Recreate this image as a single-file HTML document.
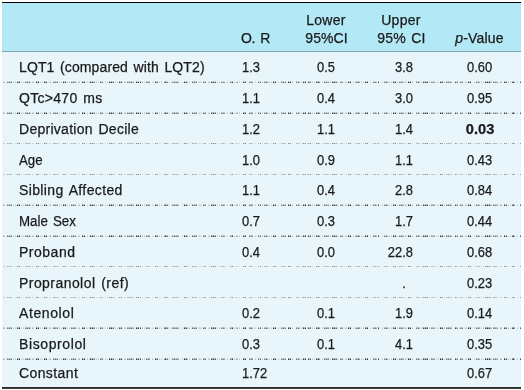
<!DOCTYPE html><html><head><meta charset="utf-8"><style>
html,body{margin:0;padding:0;background:#fff;width:524px;height:390px;overflow:hidden}
body{position:relative;will-change:transform;font-family:"Liberation Sans",sans-serif;color:#1a1a1a;-webkit-text-stroke:0.25px #1a1a1a}
.a{position:absolute}
.t{position:absolute;white-space:pre;font-size:14px;letter-spacing:0.3px;line-height:1;word-spacing:1.5px}
.c{text-align:center;width:80px}
.n{position:absolute;white-space:pre;line-height:1;transform-origin:0 0;width:0;height:1em}
.n span{position:absolute;top:0}
</style></head><body>

<div class="a" style="left:2px;top:2px;width:519px;height:1px;background:#000"></div>
<div class="a" style="left:2px;top:3px;width:519px;height:48px;background:#b3e9f6"></div>
<div class="a" style="left:2px;top:51px;width:519px;height:1px;background:#80a6b1"></div>
<div class="a" style="left:2px;top:52px;width:519px;height:335px;background:#e8f6fb"></div>
<div class="a" style="left:2px;top:387px;width:519px;height:1px;background:#2b2b2b"></div>
<div class="a" style="left:2px;top:388px;width:519px;height:1px;background:#3c3c3c"></div>
<svg class="a" style="left:0;top:81px;opacity:0.35" width="524" height="1" fill="#1e1e1e"><path fill-opacity="0.21" d="M13 0h1v1h-1zM15 0h1v1h-1zM21 0h1v1h-1zM23 0h1v1h-1zM30 0h1v1h-1zM40 0h1v1h-1zM42 0h1v1h-1zM59 0h1v1h-1zM61 0h1v1h-1zM67 0h1v1h-1zM69 0h1v1h-1zM87 0h1v1h-1zM89 0h1v1h-1zM96 0h1v1h-1zM98 0h1v1h-1zM105 0h1v1h-1zM107 0h1v1h-1zM115 0h1v1h-1zM117 0h1v1h-1zM125 0h1v1h-1zM142 0h1v1h-1zM144 0h1v1h-1zM152 0h1v1h-1zM159 0h1v1h-1zM161 0h1v1h-1zM169 0h1v1h-1zM182 0h1v1h-1zM187 0h1v1h-1zM189 0h1v1h-1zM200 0h1v1h-1zM208 0h1v1h-1zM209 0h1v1h-1zM217 0h1v1h-1zM219 0h1v1h-1zM227 0h1v1h-1zM234 0h1v1h-1zM239 0h1v1h-1zM255 0h1v1h-1zM262 0h1v1h-1zM269 0h1v1h-1zM271 0h1v1h-1zM278 0h1v1h-1zM292 0h1v1h-1zM301 0h1v1h-1zM312 0h1v1h-1zM314 0h1v1h-1zM322 0h1v1h-1zM330 0h1v1h-1zM337 0h1v1h-1zM345 0h1v1h-1zM346 0h1v1h-1zM353 0h1v1h-1zM355 0h1v1h-1zM361 0h1v1h-1zM363 0h1v1h-1zM370 0h1v1h-1zM382 0h1v1h-1zM389 0h1v1h-1zM391 0h1v1h-1zM397 0h1v1h-1zM405 0h1v1h-1zM406 0h1v1h-1zM412 0h1v1h-1zM421 0h1v1h-1zM429 0h1v1h-1zM436 0h1v1h-1zM438 0h1v1h-1zM444 0h1v1h-1zM465 0h1v1h-1zM466 0h1v1h-1zM474 0h1v1h-1zM481 0h1v1h-1zM483 0h1v1h-1zM491 0h1v1h-1zM508 0h1v1h-1zM510 0h1v1h-1zM517 0h1v1h-1z"/><path fill-opacity="0.26" d="M3 0h1v1h-1zM4 0h1v1h-1zM32 0h1v1h-1zM33 0h1v1h-1zM49 0h1v1h-1zM50 0h1v1h-1zM78 0h1v1h-1zM79 0h1v1h-1zM124 0h1v1h-1zM199 0h1v1h-1zM501 0h1v1h-1z"/><path fill-opacity="0.32" d="M8 0h1v1h-1zM10 0h1v1h-1zM18 0h1v1h-1zM26 0h1v1h-1zM28 0h1v1h-1zM37 0h1v1h-1zM45 0h1v1h-1zM54 0h1v1h-1zM56 0h1v1h-1zM64 0h1v1h-1zM72 0h1v1h-1zM74 0h1v1h-1zM83 0h1v1h-1zM91 0h1v1h-1zM93 0h1v1h-1zM101 0h1v1h-1zM110 0h1v1h-1zM112 0h1v1h-1zM120 0h1v1h-1zM128 0h1v1h-1zM130 0h1v1h-1zM132 0h1v1h-1zM137 0h1v1h-1zM147 0h1v1h-1zM156 0h1v1h-1zM166 0h1v1h-1zM173 0h1v1h-1zM175 0h1v1h-1zM177 0h1v1h-1zM185 0h1v1h-1zM193 0h1v1h-1zM195 0h1v1h-1zM204 0h1v1h-1zM212 0h1v1h-1zM214 0h1v1h-1zM222 0h1v1h-1zM231 0h1v1h-1zM236 0h1v1h-1zM237 0h1v1h-1zM244 0h1v1h-1zM250 0h1v1h-1zM265 0h1v1h-1zM274 0h1v1h-1zM282 0h1v1h-1zM284 0h1v1h-1zM289 0h1v1h-1zM297 0h1v1h-1zM299 0h1v1h-1zM304 0h1v1h-1zM309 0h1v1h-1zM317 0h1v1h-1zM325 0h1v1h-1zM327 0h1v1h-1zM333 0h1v1h-1zM335 0h1v1h-1zM341 0h1v1h-1zM349 0h1v1h-1zM366 0h1v1h-1zM374 0h1v1h-1zM376 0h1v1h-1zM385 0h1v1h-1zM394 0h1v1h-1zM400 0h1v1h-1zM402 0h1v1h-1zM409 0h1v1h-1zM417 0h1v1h-1zM419 0h1v1h-1zM424 0h1v1h-1zM426 0h1v1h-1zM432 0h1v1h-1zM434 0h1v1h-1zM441 0h1v1h-1zM447 0h1v1h-1zM449 0h1v1h-1zM451 0h1v1h-1zM456 0h1v1h-1zM461 0h1v1h-1zM469 0h1v1h-1zM477 0h1v1h-1zM479 0h1v1h-1zM486 0h1v1h-1zM488 0h1v1h-1zM490 0h1v1h-1zM494 0h1v1h-1zM496 0h1v1h-1zM500 0h1v1h-1zM505 0h1v1h-1zM514 0h1v1h-1z"/><path fill-opacity="0.37" d="M357 0h1v1h-1z"/><path fill-opacity="0.42" d="M133 0h1v1h-1zM149 0h1v1h-1zM164 0h1v1h-1zM178 0h1v1h-1zM224 0h1v1h-1zM252 0h1v1h-1zM267 0h1v1h-1zM319 0h1v1h-1zM359 0h1v1h-1zM387 0h1v1h-1zM403 0h1v1h-1zM497 0h1v1h-1z"/><path fill-opacity="0.53" d="M127 0h1v1h-1zM172 0h1v1h-1zM221 0h1v1h-1zM223 0h1v1h-1zM264 0h1v1h-1zM281 0h1v1h-1zM285 0h1v1h-1zM296 0h1v1h-1zM298 0h1v1h-1zM328 0h1v1h-1zM340 0h1v1h-1zM342 0h1v1h-1zM373 0h1v1h-1zM384 0h1v1h-1zM399 0h1v1h-1zM416 0h1v1h-1zM431 0h1v1h-1zM433 0h1v1h-1zM446 0h1v1h-1zM450 0h1v1h-1zM457 0h1v1h-1zM462 0h1v1h-1zM476 0h1v1h-1zM478 0h1v1h-1zM493 0h1v1h-1zM495 0h1v1h-1z"/><path fill-opacity="0.58" d="M7 0h1v1h-1zM9 0h1v1h-1zM11 0h1v1h-1zM25 0h1v1h-1zM27 0h1v1h-1zM29 0h1v1h-1zM53 0h1v1h-1zM55 0h1v1h-1zM57 0h1v1h-1zM71 0h1v1h-1zM73 0h1v1h-1zM75 0h1v1h-1zM94 0h1v1h-1zM102 0h1v1h-1zM129 0h1v1h-1zM131 0h1v1h-1zM146 0h1v1h-1zM148 0h1v1h-1zM174 0h1v1h-1zM176 0h1v1h-1zM249 0h1v1h-1zM251 0h1v1h-1zM266 0h1v1h-1zM283 0h1v1h-1zM324 0h1v1h-1zM326 0h1v1h-1zM356 0h1v1h-1zM358 0h1v1h-1zM375 0h1v1h-1zM386 0h1v1h-1zM401 0h1v1h-1zM418 0h1v1h-1zM448 0h1v1h-1z"/><path fill-opacity="0.63" d="M100 0h1v1h-1zM113 0h1v1h-1zM167 0h1v1h-1zM192 0h1v1h-1zM194 0h1v1h-1zM196 0h1v1h-1zM203 0h1v1h-1zM205 0h1v1h-1zM230 0h1v1h-1zM310 0h1v1h-1zM336 0h1v1h-1zM460 0h1v1h-1zM512 0h1v1h-1z"/><path fill-opacity="0.73" d="M157 0h1v1h-1zM215 0h1v1h-1zM258 0h1v1h-1zM260 0h1v1h-1zM506 0h1v1h-1zM520 0h1v1h-1z"/><path fill-opacity="0.79" d="M455 0h1v1h-1z"/><path fill-opacity="0.84" d="M90 0h1v1h-1zM92 0h1v1h-1zM119 0h1v1h-1zM121 0h1v1h-1zM140 0h1v1h-1zM186 0h1v1h-1zM211 0h1v1h-1zM308 0h1v1h-1zM316 0h1v1h-1zM318 0h1v1h-1zM332 0h1v1h-1zM378 0h1v1h-1zM423 0h1v1h-1zM427 0h1v1h-1zM489 0h1v1h-1z"/><path fill-opacity="0.89" d="M17 0h1v1h-1zM19 0h1v1h-1zM36 0h1v1h-1zM38 0h1v1h-1zM44 0h1v1h-1zM46 0h1v1h-1zM63 0h1v1h-1zM65 0h1v1h-1zM82 0h1v1h-1zM84 0h1v1h-1zM109 0h1v1h-1zM111 0h1v1h-1zM136 0h1v1h-1zM138 0h1v1h-1zM155 0h1v1h-1zM165 0h1v1h-1zM184 0h1v1h-1zM213 0h1v1h-1zM232 0h1v1h-1zM243 0h1v1h-1zM245 0h1v1h-1zM273 0h1v1h-1zM275 0h1v1h-1zM288 0h1v1h-1zM290 0h1v1h-1zM303 0h1v1h-1zM305 0h1v1h-1zM334 0h1v1h-1zM348 0h1v1h-1zM350 0h1v1h-1zM365 0h1v1h-1zM367 0h1v1h-1zM393 0h1v1h-1zM395 0h1v1h-1zM408 0h1v1h-1zM410 0h1v1h-1zM425 0h1v1h-1zM440 0h1v1h-1zM442 0h1v1h-1zM468 0h1v1h-1zM470 0h1v1h-1zM485 0h1v1h-1zM487 0h1v1h-1zM504 0h1v1h-1zM513 0h1v1h-1z"/></svg>
<svg class="a" style="left:0;top:82px;opacity:1" width="524" height="1" fill="#1e1e1e"><path fill-opacity="0.21" d="M13 0h1v1h-1zM15 0h1v1h-1zM21 0h1v1h-1zM23 0h1v1h-1zM30 0h1v1h-1zM40 0h1v1h-1zM42 0h1v1h-1zM59 0h1v1h-1zM61 0h1v1h-1zM67 0h1v1h-1zM69 0h1v1h-1zM87 0h1v1h-1zM89 0h1v1h-1zM96 0h1v1h-1zM98 0h1v1h-1zM105 0h1v1h-1zM107 0h1v1h-1zM115 0h1v1h-1zM117 0h1v1h-1zM125 0h1v1h-1zM142 0h1v1h-1zM144 0h1v1h-1zM152 0h1v1h-1zM159 0h1v1h-1zM161 0h1v1h-1zM169 0h1v1h-1zM182 0h1v1h-1zM187 0h1v1h-1zM189 0h1v1h-1zM200 0h1v1h-1zM208 0h1v1h-1zM209 0h1v1h-1zM217 0h1v1h-1zM219 0h1v1h-1zM227 0h1v1h-1zM234 0h1v1h-1zM239 0h1v1h-1zM255 0h1v1h-1zM262 0h1v1h-1zM269 0h1v1h-1zM271 0h1v1h-1zM278 0h1v1h-1zM292 0h1v1h-1zM301 0h1v1h-1zM312 0h1v1h-1zM314 0h1v1h-1zM322 0h1v1h-1zM330 0h1v1h-1zM337 0h1v1h-1zM345 0h1v1h-1zM346 0h1v1h-1zM353 0h1v1h-1zM355 0h1v1h-1zM361 0h1v1h-1zM363 0h1v1h-1zM370 0h1v1h-1zM382 0h1v1h-1zM389 0h1v1h-1zM391 0h1v1h-1zM397 0h1v1h-1zM405 0h1v1h-1zM406 0h1v1h-1zM412 0h1v1h-1zM421 0h1v1h-1zM429 0h1v1h-1zM436 0h1v1h-1zM438 0h1v1h-1zM444 0h1v1h-1zM465 0h1v1h-1zM466 0h1v1h-1zM474 0h1v1h-1zM481 0h1v1h-1zM483 0h1v1h-1zM491 0h1v1h-1zM508 0h1v1h-1zM510 0h1v1h-1zM517 0h1v1h-1z"/><path fill-opacity="0.26" d="M3 0h1v1h-1zM4 0h1v1h-1zM32 0h1v1h-1zM33 0h1v1h-1zM49 0h1v1h-1zM50 0h1v1h-1zM78 0h1v1h-1zM79 0h1v1h-1zM124 0h1v1h-1zM199 0h1v1h-1zM501 0h1v1h-1z"/><path fill-opacity="0.32" d="M8 0h1v1h-1zM10 0h1v1h-1zM18 0h1v1h-1zM26 0h1v1h-1zM28 0h1v1h-1zM37 0h1v1h-1zM45 0h1v1h-1zM54 0h1v1h-1zM56 0h1v1h-1zM64 0h1v1h-1zM72 0h1v1h-1zM74 0h1v1h-1zM83 0h1v1h-1zM91 0h1v1h-1zM93 0h1v1h-1zM101 0h1v1h-1zM110 0h1v1h-1zM112 0h1v1h-1zM120 0h1v1h-1zM128 0h1v1h-1zM130 0h1v1h-1zM132 0h1v1h-1zM137 0h1v1h-1zM147 0h1v1h-1zM156 0h1v1h-1zM166 0h1v1h-1zM173 0h1v1h-1zM175 0h1v1h-1zM177 0h1v1h-1zM185 0h1v1h-1zM193 0h1v1h-1zM195 0h1v1h-1zM204 0h1v1h-1zM212 0h1v1h-1zM214 0h1v1h-1zM222 0h1v1h-1zM231 0h1v1h-1zM236 0h1v1h-1zM237 0h1v1h-1zM244 0h1v1h-1zM250 0h1v1h-1zM265 0h1v1h-1zM274 0h1v1h-1zM282 0h1v1h-1zM284 0h1v1h-1zM289 0h1v1h-1zM297 0h1v1h-1zM299 0h1v1h-1zM304 0h1v1h-1zM309 0h1v1h-1zM317 0h1v1h-1zM325 0h1v1h-1zM327 0h1v1h-1zM333 0h1v1h-1zM335 0h1v1h-1zM341 0h1v1h-1zM349 0h1v1h-1zM366 0h1v1h-1zM374 0h1v1h-1zM376 0h1v1h-1zM385 0h1v1h-1zM394 0h1v1h-1zM400 0h1v1h-1zM402 0h1v1h-1zM409 0h1v1h-1zM417 0h1v1h-1zM419 0h1v1h-1zM424 0h1v1h-1zM426 0h1v1h-1zM432 0h1v1h-1zM434 0h1v1h-1zM441 0h1v1h-1zM447 0h1v1h-1zM449 0h1v1h-1zM451 0h1v1h-1zM456 0h1v1h-1zM461 0h1v1h-1zM469 0h1v1h-1zM477 0h1v1h-1zM479 0h1v1h-1zM486 0h1v1h-1zM488 0h1v1h-1zM490 0h1v1h-1zM494 0h1v1h-1zM496 0h1v1h-1zM500 0h1v1h-1zM505 0h1v1h-1zM514 0h1v1h-1z"/><path fill-opacity="0.37" d="M357 0h1v1h-1z"/><path fill-opacity="0.42" d="M133 0h1v1h-1zM149 0h1v1h-1zM164 0h1v1h-1zM178 0h1v1h-1zM224 0h1v1h-1zM252 0h1v1h-1zM267 0h1v1h-1zM319 0h1v1h-1zM359 0h1v1h-1zM387 0h1v1h-1zM403 0h1v1h-1zM497 0h1v1h-1z"/><path fill-opacity="0.53" d="M127 0h1v1h-1zM172 0h1v1h-1zM221 0h1v1h-1zM223 0h1v1h-1zM264 0h1v1h-1zM281 0h1v1h-1zM285 0h1v1h-1zM296 0h1v1h-1zM298 0h1v1h-1zM328 0h1v1h-1zM340 0h1v1h-1zM342 0h1v1h-1zM373 0h1v1h-1zM384 0h1v1h-1zM399 0h1v1h-1zM416 0h1v1h-1zM431 0h1v1h-1zM433 0h1v1h-1zM446 0h1v1h-1zM450 0h1v1h-1zM457 0h1v1h-1zM462 0h1v1h-1zM476 0h1v1h-1zM478 0h1v1h-1zM493 0h1v1h-1zM495 0h1v1h-1z"/><path fill-opacity="0.58" d="M7 0h1v1h-1zM9 0h1v1h-1zM11 0h1v1h-1zM25 0h1v1h-1zM27 0h1v1h-1zM29 0h1v1h-1zM53 0h1v1h-1zM55 0h1v1h-1zM57 0h1v1h-1zM71 0h1v1h-1zM73 0h1v1h-1zM75 0h1v1h-1zM94 0h1v1h-1zM102 0h1v1h-1zM129 0h1v1h-1zM131 0h1v1h-1zM146 0h1v1h-1zM148 0h1v1h-1zM174 0h1v1h-1zM176 0h1v1h-1zM249 0h1v1h-1zM251 0h1v1h-1zM266 0h1v1h-1zM283 0h1v1h-1zM324 0h1v1h-1zM326 0h1v1h-1zM356 0h1v1h-1zM358 0h1v1h-1zM375 0h1v1h-1zM386 0h1v1h-1zM401 0h1v1h-1zM418 0h1v1h-1zM448 0h1v1h-1z"/><path fill-opacity="0.63" d="M100 0h1v1h-1zM113 0h1v1h-1zM167 0h1v1h-1zM192 0h1v1h-1zM194 0h1v1h-1zM196 0h1v1h-1zM203 0h1v1h-1zM205 0h1v1h-1zM230 0h1v1h-1zM310 0h1v1h-1zM336 0h1v1h-1zM460 0h1v1h-1zM512 0h1v1h-1z"/><path fill-opacity="0.73" d="M157 0h1v1h-1zM215 0h1v1h-1zM258 0h1v1h-1zM260 0h1v1h-1zM506 0h1v1h-1zM520 0h1v1h-1z"/><path fill-opacity="0.79" d="M455 0h1v1h-1z"/><path fill-opacity="0.84" d="M90 0h1v1h-1zM92 0h1v1h-1zM119 0h1v1h-1zM121 0h1v1h-1zM140 0h1v1h-1zM186 0h1v1h-1zM211 0h1v1h-1zM308 0h1v1h-1zM316 0h1v1h-1zM318 0h1v1h-1zM332 0h1v1h-1zM378 0h1v1h-1zM423 0h1v1h-1zM427 0h1v1h-1zM489 0h1v1h-1z"/><path fill-opacity="0.89" d="M17 0h1v1h-1zM19 0h1v1h-1zM36 0h1v1h-1zM38 0h1v1h-1zM44 0h1v1h-1zM46 0h1v1h-1zM63 0h1v1h-1zM65 0h1v1h-1zM82 0h1v1h-1zM84 0h1v1h-1zM109 0h1v1h-1zM111 0h1v1h-1zM136 0h1v1h-1zM138 0h1v1h-1zM155 0h1v1h-1zM165 0h1v1h-1zM184 0h1v1h-1zM213 0h1v1h-1zM232 0h1v1h-1zM243 0h1v1h-1zM245 0h1v1h-1zM273 0h1v1h-1zM275 0h1v1h-1zM288 0h1v1h-1zM290 0h1v1h-1zM303 0h1v1h-1zM305 0h1v1h-1zM334 0h1v1h-1zM348 0h1v1h-1zM350 0h1v1h-1zM365 0h1v1h-1zM367 0h1v1h-1zM393 0h1v1h-1zM395 0h1v1h-1zM408 0h1v1h-1zM410 0h1v1h-1zM425 0h1v1h-1zM440 0h1v1h-1zM442 0h1v1h-1zM468 0h1v1h-1zM470 0h1v1h-1zM485 0h1v1h-1zM487 0h1v1h-1zM504 0h1v1h-1zM513 0h1v1h-1z"/></svg>
<svg class="a" style="left:0;top:112px;opacity:0.45" width="524" height="1" fill="#1e1e1e"><path fill-opacity="0.21" d="M13 0h1v1h-1zM15 0h1v1h-1zM21 0h1v1h-1zM23 0h1v1h-1zM30 0h1v1h-1zM40 0h1v1h-1zM42 0h1v1h-1zM59 0h1v1h-1zM61 0h1v1h-1zM67 0h1v1h-1zM69 0h1v1h-1zM87 0h1v1h-1zM89 0h1v1h-1zM96 0h1v1h-1zM98 0h1v1h-1zM105 0h1v1h-1zM107 0h1v1h-1zM115 0h1v1h-1zM117 0h1v1h-1zM125 0h1v1h-1zM142 0h1v1h-1zM144 0h1v1h-1zM152 0h1v1h-1zM159 0h1v1h-1zM161 0h1v1h-1zM169 0h1v1h-1zM182 0h1v1h-1zM187 0h1v1h-1zM189 0h1v1h-1zM200 0h1v1h-1zM208 0h1v1h-1zM209 0h1v1h-1zM217 0h1v1h-1zM219 0h1v1h-1zM227 0h1v1h-1zM234 0h1v1h-1zM239 0h1v1h-1zM255 0h1v1h-1zM262 0h1v1h-1zM269 0h1v1h-1zM271 0h1v1h-1zM278 0h1v1h-1zM292 0h1v1h-1zM301 0h1v1h-1zM312 0h1v1h-1zM314 0h1v1h-1zM322 0h1v1h-1zM330 0h1v1h-1zM337 0h1v1h-1zM345 0h1v1h-1zM346 0h1v1h-1zM353 0h1v1h-1zM355 0h1v1h-1zM361 0h1v1h-1zM363 0h1v1h-1zM370 0h1v1h-1zM382 0h1v1h-1zM389 0h1v1h-1zM391 0h1v1h-1zM397 0h1v1h-1zM405 0h1v1h-1zM406 0h1v1h-1zM412 0h1v1h-1zM421 0h1v1h-1zM429 0h1v1h-1zM436 0h1v1h-1zM438 0h1v1h-1zM444 0h1v1h-1zM465 0h1v1h-1zM466 0h1v1h-1zM474 0h1v1h-1zM481 0h1v1h-1zM483 0h1v1h-1zM491 0h1v1h-1zM508 0h1v1h-1zM510 0h1v1h-1zM517 0h1v1h-1z"/><path fill-opacity="0.26" d="M3 0h1v1h-1zM4 0h1v1h-1zM32 0h1v1h-1zM33 0h1v1h-1zM49 0h1v1h-1zM50 0h1v1h-1zM78 0h1v1h-1zM79 0h1v1h-1zM124 0h1v1h-1zM199 0h1v1h-1zM501 0h1v1h-1z"/><path fill-opacity="0.32" d="M8 0h1v1h-1zM10 0h1v1h-1zM18 0h1v1h-1zM26 0h1v1h-1zM28 0h1v1h-1zM37 0h1v1h-1zM45 0h1v1h-1zM54 0h1v1h-1zM56 0h1v1h-1zM64 0h1v1h-1zM72 0h1v1h-1zM74 0h1v1h-1zM83 0h1v1h-1zM91 0h1v1h-1zM93 0h1v1h-1zM101 0h1v1h-1zM110 0h1v1h-1zM112 0h1v1h-1zM120 0h1v1h-1zM128 0h1v1h-1zM130 0h1v1h-1zM132 0h1v1h-1zM137 0h1v1h-1zM147 0h1v1h-1zM156 0h1v1h-1zM166 0h1v1h-1zM173 0h1v1h-1zM175 0h1v1h-1zM177 0h1v1h-1zM185 0h1v1h-1zM193 0h1v1h-1zM195 0h1v1h-1zM204 0h1v1h-1zM212 0h1v1h-1zM214 0h1v1h-1zM222 0h1v1h-1zM231 0h1v1h-1zM236 0h1v1h-1zM237 0h1v1h-1zM244 0h1v1h-1zM250 0h1v1h-1zM265 0h1v1h-1zM274 0h1v1h-1zM282 0h1v1h-1zM284 0h1v1h-1zM289 0h1v1h-1zM297 0h1v1h-1zM299 0h1v1h-1zM304 0h1v1h-1zM309 0h1v1h-1zM317 0h1v1h-1zM325 0h1v1h-1zM327 0h1v1h-1zM333 0h1v1h-1zM335 0h1v1h-1zM341 0h1v1h-1zM349 0h1v1h-1zM366 0h1v1h-1zM374 0h1v1h-1zM376 0h1v1h-1zM385 0h1v1h-1zM394 0h1v1h-1zM400 0h1v1h-1zM402 0h1v1h-1zM409 0h1v1h-1zM417 0h1v1h-1zM419 0h1v1h-1zM424 0h1v1h-1zM426 0h1v1h-1zM432 0h1v1h-1zM434 0h1v1h-1zM441 0h1v1h-1zM447 0h1v1h-1zM449 0h1v1h-1zM451 0h1v1h-1zM456 0h1v1h-1zM461 0h1v1h-1zM469 0h1v1h-1zM477 0h1v1h-1zM479 0h1v1h-1zM486 0h1v1h-1zM488 0h1v1h-1zM490 0h1v1h-1zM494 0h1v1h-1zM496 0h1v1h-1zM500 0h1v1h-1zM505 0h1v1h-1zM514 0h1v1h-1z"/><path fill-opacity="0.37" d="M357 0h1v1h-1z"/><path fill-opacity="0.42" d="M133 0h1v1h-1zM149 0h1v1h-1zM164 0h1v1h-1zM178 0h1v1h-1zM224 0h1v1h-1zM252 0h1v1h-1zM267 0h1v1h-1zM319 0h1v1h-1zM359 0h1v1h-1zM387 0h1v1h-1zM403 0h1v1h-1zM497 0h1v1h-1z"/><path fill-opacity="0.53" d="M127 0h1v1h-1zM172 0h1v1h-1zM221 0h1v1h-1zM223 0h1v1h-1zM264 0h1v1h-1zM281 0h1v1h-1zM285 0h1v1h-1zM296 0h1v1h-1zM298 0h1v1h-1zM328 0h1v1h-1zM340 0h1v1h-1zM342 0h1v1h-1zM373 0h1v1h-1zM384 0h1v1h-1zM399 0h1v1h-1zM416 0h1v1h-1zM431 0h1v1h-1zM433 0h1v1h-1zM446 0h1v1h-1zM450 0h1v1h-1zM457 0h1v1h-1zM462 0h1v1h-1zM476 0h1v1h-1zM478 0h1v1h-1zM493 0h1v1h-1zM495 0h1v1h-1z"/><path fill-opacity="0.58" d="M7 0h1v1h-1zM9 0h1v1h-1zM11 0h1v1h-1zM25 0h1v1h-1zM27 0h1v1h-1zM29 0h1v1h-1zM53 0h1v1h-1zM55 0h1v1h-1zM57 0h1v1h-1zM71 0h1v1h-1zM73 0h1v1h-1zM75 0h1v1h-1zM94 0h1v1h-1zM102 0h1v1h-1zM129 0h1v1h-1zM131 0h1v1h-1zM146 0h1v1h-1zM148 0h1v1h-1zM174 0h1v1h-1zM176 0h1v1h-1zM249 0h1v1h-1zM251 0h1v1h-1zM266 0h1v1h-1zM283 0h1v1h-1zM324 0h1v1h-1zM326 0h1v1h-1zM356 0h1v1h-1zM358 0h1v1h-1zM375 0h1v1h-1zM386 0h1v1h-1zM401 0h1v1h-1zM418 0h1v1h-1zM448 0h1v1h-1z"/><path fill-opacity="0.63" d="M100 0h1v1h-1zM113 0h1v1h-1zM167 0h1v1h-1zM192 0h1v1h-1zM194 0h1v1h-1zM196 0h1v1h-1zM203 0h1v1h-1zM205 0h1v1h-1zM230 0h1v1h-1zM310 0h1v1h-1zM336 0h1v1h-1zM460 0h1v1h-1zM512 0h1v1h-1z"/><path fill-opacity="0.73" d="M157 0h1v1h-1zM215 0h1v1h-1zM258 0h1v1h-1zM260 0h1v1h-1zM506 0h1v1h-1zM520 0h1v1h-1z"/><path fill-opacity="0.79" d="M455 0h1v1h-1z"/><path fill-opacity="0.84" d="M90 0h1v1h-1zM92 0h1v1h-1zM119 0h1v1h-1zM121 0h1v1h-1zM140 0h1v1h-1zM186 0h1v1h-1zM211 0h1v1h-1zM308 0h1v1h-1zM316 0h1v1h-1zM318 0h1v1h-1zM332 0h1v1h-1zM378 0h1v1h-1zM423 0h1v1h-1zM427 0h1v1h-1zM489 0h1v1h-1z"/><path fill-opacity="0.89" d="M17 0h1v1h-1zM19 0h1v1h-1zM36 0h1v1h-1zM38 0h1v1h-1zM44 0h1v1h-1zM46 0h1v1h-1zM63 0h1v1h-1zM65 0h1v1h-1zM82 0h1v1h-1zM84 0h1v1h-1zM109 0h1v1h-1zM111 0h1v1h-1zM136 0h1v1h-1zM138 0h1v1h-1zM155 0h1v1h-1zM165 0h1v1h-1zM184 0h1v1h-1zM213 0h1v1h-1zM232 0h1v1h-1zM243 0h1v1h-1zM245 0h1v1h-1zM273 0h1v1h-1zM275 0h1v1h-1zM288 0h1v1h-1zM290 0h1v1h-1zM303 0h1v1h-1zM305 0h1v1h-1zM334 0h1v1h-1zM348 0h1v1h-1zM350 0h1v1h-1zM365 0h1v1h-1zM367 0h1v1h-1zM393 0h1v1h-1zM395 0h1v1h-1zM408 0h1v1h-1zM410 0h1v1h-1zM425 0h1v1h-1zM440 0h1v1h-1zM442 0h1v1h-1zM468 0h1v1h-1zM470 0h1v1h-1zM485 0h1v1h-1zM487 0h1v1h-1zM504 0h1v1h-1zM513 0h1v1h-1z"/></svg>
<svg class="a" style="left:0;top:113px;opacity:1" width="524" height="1" fill="#1e1e1e"><path fill-opacity="0.21" d="M13 0h1v1h-1zM15 0h1v1h-1zM21 0h1v1h-1zM23 0h1v1h-1zM30 0h1v1h-1zM40 0h1v1h-1zM42 0h1v1h-1zM59 0h1v1h-1zM61 0h1v1h-1zM67 0h1v1h-1zM69 0h1v1h-1zM87 0h1v1h-1zM89 0h1v1h-1zM96 0h1v1h-1zM98 0h1v1h-1zM105 0h1v1h-1zM107 0h1v1h-1zM115 0h1v1h-1zM117 0h1v1h-1zM125 0h1v1h-1zM142 0h1v1h-1zM144 0h1v1h-1zM152 0h1v1h-1zM159 0h1v1h-1zM161 0h1v1h-1zM169 0h1v1h-1zM182 0h1v1h-1zM187 0h1v1h-1zM189 0h1v1h-1zM200 0h1v1h-1zM208 0h1v1h-1zM209 0h1v1h-1zM217 0h1v1h-1zM219 0h1v1h-1zM227 0h1v1h-1zM234 0h1v1h-1zM239 0h1v1h-1zM255 0h1v1h-1zM262 0h1v1h-1zM269 0h1v1h-1zM271 0h1v1h-1zM278 0h1v1h-1zM292 0h1v1h-1zM301 0h1v1h-1zM312 0h1v1h-1zM314 0h1v1h-1zM322 0h1v1h-1zM330 0h1v1h-1zM337 0h1v1h-1zM345 0h1v1h-1zM346 0h1v1h-1zM353 0h1v1h-1zM355 0h1v1h-1zM361 0h1v1h-1zM363 0h1v1h-1zM370 0h1v1h-1zM382 0h1v1h-1zM389 0h1v1h-1zM391 0h1v1h-1zM397 0h1v1h-1zM405 0h1v1h-1zM406 0h1v1h-1zM412 0h1v1h-1zM421 0h1v1h-1zM429 0h1v1h-1zM436 0h1v1h-1zM438 0h1v1h-1zM444 0h1v1h-1zM465 0h1v1h-1zM466 0h1v1h-1zM474 0h1v1h-1zM481 0h1v1h-1zM483 0h1v1h-1zM491 0h1v1h-1zM508 0h1v1h-1zM510 0h1v1h-1zM517 0h1v1h-1z"/><path fill-opacity="0.26" d="M3 0h1v1h-1zM4 0h1v1h-1zM32 0h1v1h-1zM33 0h1v1h-1zM49 0h1v1h-1zM50 0h1v1h-1zM78 0h1v1h-1zM79 0h1v1h-1zM124 0h1v1h-1zM199 0h1v1h-1zM501 0h1v1h-1z"/><path fill-opacity="0.32" d="M8 0h1v1h-1zM10 0h1v1h-1zM18 0h1v1h-1zM26 0h1v1h-1zM28 0h1v1h-1zM37 0h1v1h-1zM45 0h1v1h-1zM54 0h1v1h-1zM56 0h1v1h-1zM64 0h1v1h-1zM72 0h1v1h-1zM74 0h1v1h-1zM83 0h1v1h-1zM91 0h1v1h-1zM93 0h1v1h-1zM101 0h1v1h-1zM110 0h1v1h-1zM112 0h1v1h-1zM120 0h1v1h-1zM128 0h1v1h-1zM130 0h1v1h-1zM132 0h1v1h-1zM137 0h1v1h-1zM147 0h1v1h-1zM156 0h1v1h-1zM166 0h1v1h-1zM173 0h1v1h-1zM175 0h1v1h-1zM177 0h1v1h-1zM185 0h1v1h-1zM193 0h1v1h-1zM195 0h1v1h-1zM204 0h1v1h-1zM212 0h1v1h-1zM214 0h1v1h-1zM222 0h1v1h-1zM231 0h1v1h-1zM236 0h1v1h-1zM237 0h1v1h-1zM244 0h1v1h-1zM250 0h1v1h-1zM265 0h1v1h-1zM274 0h1v1h-1zM282 0h1v1h-1zM284 0h1v1h-1zM289 0h1v1h-1zM297 0h1v1h-1zM299 0h1v1h-1zM304 0h1v1h-1zM309 0h1v1h-1zM317 0h1v1h-1zM325 0h1v1h-1zM327 0h1v1h-1zM333 0h1v1h-1zM335 0h1v1h-1zM341 0h1v1h-1zM349 0h1v1h-1zM366 0h1v1h-1zM374 0h1v1h-1zM376 0h1v1h-1zM385 0h1v1h-1zM394 0h1v1h-1zM400 0h1v1h-1zM402 0h1v1h-1zM409 0h1v1h-1zM417 0h1v1h-1zM419 0h1v1h-1zM424 0h1v1h-1zM426 0h1v1h-1zM432 0h1v1h-1zM434 0h1v1h-1zM441 0h1v1h-1zM447 0h1v1h-1zM449 0h1v1h-1zM451 0h1v1h-1zM456 0h1v1h-1zM461 0h1v1h-1zM469 0h1v1h-1zM477 0h1v1h-1zM479 0h1v1h-1zM486 0h1v1h-1zM488 0h1v1h-1zM490 0h1v1h-1zM494 0h1v1h-1zM496 0h1v1h-1zM500 0h1v1h-1zM505 0h1v1h-1zM514 0h1v1h-1z"/><path fill-opacity="0.37" d="M357 0h1v1h-1z"/><path fill-opacity="0.42" d="M133 0h1v1h-1zM149 0h1v1h-1zM164 0h1v1h-1zM178 0h1v1h-1zM224 0h1v1h-1zM252 0h1v1h-1zM267 0h1v1h-1zM319 0h1v1h-1zM359 0h1v1h-1zM387 0h1v1h-1zM403 0h1v1h-1zM497 0h1v1h-1z"/><path fill-opacity="0.53" d="M127 0h1v1h-1zM172 0h1v1h-1zM221 0h1v1h-1zM223 0h1v1h-1zM264 0h1v1h-1zM281 0h1v1h-1zM285 0h1v1h-1zM296 0h1v1h-1zM298 0h1v1h-1zM328 0h1v1h-1zM340 0h1v1h-1zM342 0h1v1h-1zM373 0h1v1h-1zM384 0h1v1h-1zM399 0h1v1h-1zM416 0h1v1h-1zM431 0h1v1h-1zM433 0h1v1h-1zM446 0h1v1h-1zM450 0h1v1h-1zM457 0h1v1h-1zM462 0h1v1h-1zM476 0h1v1h-1zM478 0h1v1h-1zM493 0h1v1h-1zM495 0h1v1h-1z"/><path fill-opacity="0.58" d="M7 0h1v1h-1zM9 0h1v1h-1zM11 0h1v1h-1zM25 0h1v1h-1zM27 0h1v1h-1zM29 0h1v1h-1zM53 0h1v1h-1zM55 0h1v1h-1zM57 0h1v1h-1zM71 0h1v1h-1zM73 0h1v1h-1zM75 0h1v1h-1zM94 0h1v1h-1zM102 0h1v1h-1zM129 0h1v1h-1zM131 0h1v1h-1zM146 0h1v1h-1zM148 0h1v1h-1zM174 0h1v1h-1zM176 0h1v1h-1zM249 0h1v1h-1zM251 0h1v1h-1zM266 0h1v1h-1zM283 0h1v1h-1zM324 0h1v1h-1zM326 0h1v1h-1zM356 0h1v1h-1zM358 0h1v1h-1zM375 0h1v1h-1zM386 0h1v1h-1zM401 0h1v1h-1zM418 0h1v1h-1zM448 0h1v1h-1z"/><path fill-opacity="0.63" d="M100 0h1v1h-1zM113 0h1v1h-1zM167 0h1v1h-1zM192 0h1v1h-1zM194 0h1v1h-1zM196 0h1v1h-1zM203 0h1v1h-1zM205 0h1v1h-1zM230 0h1v1h-1zM310 0h1v1h-1zM336 0h1v1h-1zM460 0h1v1h-1zM512 0h1v1h-1z"/><path fill-opacity="0.73" d="M157 0h1v1h-1zM215 0h1v1h-1zM258 0h1v1h-1zM260 0h1v1h-1zM506 0h1v1h-1zM520 0h1v1h-1z"/><path fill-opacity="0.79" d="M455 0h1v1h-1z"/><path fill-opacity="0.84" d="M90 0h1v1h-1zM92 0h1v1h-1zM119 0h1v1h-1zM121 0h1v1h-1zM140 0h1v1h-1zM186 0h1v1h-1zM211 0h1v1h-1zM308 0h1v1h-1zM316 0h1v1h-1zM318 0h1v1h-1zM332 0h1v1h-1zM378 0h1v1h-1zM423 0h1v1h-1zM427 0h1v1h-1zM489 0h1v1h-1z"/><path fill-opacity="0.89" d="M17 0h1v1h-1zM19 0h1v1h-1zM36 0h1v1h-1zM38 0h1v1h-1zM44 0h1v1h-1zM46 0h1v1h-1zM63 0h1v1h-1zM65 0h1v1h-1zM82 0h1v1h-1zM84 0h1v1h-1zM109 0h1v1h-1zM111 0h1v1h-1zM136 0h1v1h-1zM138 0h1v1h-1zM155 0h1v1h-1zM165 0h1v1h-1zM184 0h1v1h-1zM213 0h1v1h-1zM232 0h1v1h-1zM243 0h1v1h-1zM245 0h1v1h-1zM273 0h1v1h-1zM275 0h1v1h-1zM288 0h1v1h-1zM290 0h1v1h-1zM303 0h1v1h-1zM305 0h1v1h-1zM334 0h1v1h-1zM348 0h1v1h-1zM350 0h1v1h-1zM365 0h1v1h-1zM367 0h1v1h-1zM393 0h1v1h-1zM395 0h1v1h-1zM408 0h1v1h-1zM410 0h1v1h-1zM425 0h1v1h-1zM440 0h1v1h-1zM442 0h1v1h-1zM468 0h1v1h-1zM470 0h1v1h-1zM485 0h1v1h-1zM487 0h1v1h-1zM504 0h1v1h-1zM513 0h1v1h-1z"/></svg>
<svg class="a" style="left:0;top:143px;opacity:0.55" width="524" height="1" fill="#1e1e1e"><path fill-opacity="0.21" d="M13 0h1v1h-1zM15 0h1v1h-1zM21 0h1v1h-1zM23 0h1v1h-1zM30 0h1v1h-1zM40 0h1v1h-1zM42 0h1v1h-1zM59 0h1v1h-1zM61 0h1v1h-1zM67 0h1v1h-1zM69 0h1v1h-1zM87 0h1v1h-1zM89 0h1v1h-1zM96 0h1v1h-1zM98 0h1v1h-1zM105 0h1v1h-1zM107 0h1v1h-1zM115 0h1v1h-1zM117 0h1v1h-1zM125 0h1v1h-1zM142 0h1v1h-1zM144 0h1v1h-1zM152 0h1v1h-1zM159 0h1v1h-1zM161 0h1v1h-1zM169 0h1v1h-1zM182 0h1v1h-1zM187 0h1v1h-1zM189 0h1v1h-1zM200 0h1v1h-1zM208 0h1v1h-1zM209 0h1v1h-1zM217 0h1v1h-1zM219 0h1v1h-1zM227 0h1v1h-1zM234 0h1v1h-1zM239 0h1v1h-1zM255 0h1v1h-1zM262 0h1v1h-1zM269 0h1v1h-1zM271 0h1v1h-1zM278 0h1v1h-1zM292 0h1v1h-1zM301 0h1v1h-1zM312 0h1v1h-1zM314 0h1v1h-1zM322 0h1v1h-1zM330 0h1v1h-1zM337 0h1v1h-1zM345 0h1v1h-1zM346 0h1v1h-1zM353 0h1v1h-1zM355 0h1v1h-1zM361 0h1v1h-1zM363 0h1v1h-1zM370 0h1v1h-1zM382 0h1v1h-1zM389 0h1v1h-1zM391 0h1v1h-1zM397 0h1v1h-1zM405 0h1v1h-1zM406 0h1v1h-1zM412 0h1v1h-1zM421 0h1v1h-1zM429 0h1v1h-1zM436 0h1v1h-1zM438 0h1v1h-1zM444 0h1v1h-1zM465 0h1v1h-1zM466 0h1v1h-1zM474 0h1v1h-1zM481 0h1v1h-1zM483 0h1v1h-1zM491 0h1v1h-1zM508 0h1v1h-1zM510 0h1v1h-1zM517 0h1v1h-1z"/><path fill-opacity="0.26" d="M3 0h1v1h-1zM4 0h1v1h-1zM32 0h1v1h-1zM33 0h1v1h-1zM49 0h1v1h-1zM50 0h1v1h-1zM78 0h1v1h-1zM79 0h1v1h-1zM124 0h1v1h-1zM199 0h1v1h-1zM501 0h1v1h-1z"/><path fill-opacity="0.32" d="M8 0h1v1h-1zM10 0h1v1h-1zM18 0h1v1h-1zM26 0h1v1h-1zM28 0h1v1h-1zM37 0h1v1h-1zM45 0h1v1h-1zM54 0h1v1h-1zM56 0h1v1h-1zM64 0h1v1h-1zM72 0h1v1h-1zM74 0h1v1h-1zM83 0h1v1h-1zM91 0h1v1h-1zM93 0h1v1h-1zM101 0h1v1h-1zM110 0h1v1h-1zM112 0h1v1h-1zM120 0h1v1h-1zM128 0h1v1h-1zM130 0h1v1h-1zM132 0h1v1h-1zM137 0h1v1h-1zM147 0h1v1h-1zM156 0h1v1h-1zM166 0h1v1h-1zM173 0h1v1h-1zM175 0h1v1h-1zM177 0h1v1h-1zM185 0h1v1h-1zM193 0h1v1h-1zM195 0h1v1h-1zM204 0h1v1h-1zM212 0h1v1h-1zM214 0h1v1h-1zM222 0h1v1h-1zM231 0h1v1h-1zM236 0h1v1h-1zM237 0h1v1h-1zM244 0h1v1h-1zM250 0h1v1h-1zM265 0h1v1h-1zM274 0h1v1h-1zM282 0h1v1h-1zM284 0h1v1h-1zM289 0h1v1h-1zM297 0h1v1h-1zM299 0h1v1h-1zM304 0h1v1h-1zM309 0h1v1h-1zM317 0h1v1h-1zM325 0h1v1h-1zM327 0h1v1h-1zM333 0h1v1h-1zM335 0h1v1h-1zM341 0h1v1h-1zM349 0h1v1h-1zM366 0h1v1h-1zM374 0h1v1h-1zM376 0h1v1h-1zM385 0h1v1h-1zM394 0h1v1h-1zM400 0h1v1h-1zM402 0h1v1h-1zM409 0h1v1h-1zM417 0h1v1h-1zM419 0h1v1h-1zM424 0h1v1h-1zM426 0h1v1h-1zM432 0h1v1h-1zM434 0h1v1h-1zM441 0h1v1h-1zM447 0h1v1h-1zM449 0h1v1h-1zM451 0h1v1h-1zM456 0h1v1h-1zM461 0h1v1h-1zM469 0h1v1h-1zM477 0h1v1h-1zM479 0h1v1h-1zM486 0h1v1h-1zM488 0h1v1h-1zM490 0h1v1h-1zM494 0h1v1h-1zM496 0h1v1h-1zM500 0h1v1h-1zM505 0h1v1h-1zM514 0h1v1h-1z"/><path fill-opacity="0.37" d="M357 0h1v1h-1z"/><path fill-opacity="0.42" d="M133 0h1v1h-1zM149 0h1v1h-1zM164 0h1v1h-1zM178 0h1v1h-1zM224 0h1v1h-1zM252 0h1v1h-1zM267 0h1v1h-1zM319 0h1v1h-1zM359 0h1v1h-1zM387 0h1v1h-1zM403 0h1v1h-1zM497 0h1v1h-1z"/><path fill-opacity="0.53" d="M127 0h1v1h-1zM172 0h1v1h-1zM221 0h1v1h-1zM223 0h1v1h-1zM264 0h1v1h-1zM281 0h1v1h-1zM285 0h1v1h-1zM296 0h1v1h-1zM298 0h1v1h-1zM328 0h1v1h-1zM340 0h1v1h-1zM342 0h1v1h-1zM373 0h1v1h-1zM384 0h1v1h-1zM399 0h1v1h-1zM416 0h1v1h-1zM431 0h1v1h-1zM433 0h1v1h-1zM446 0h1v1h-1zM450 0h1v1h-1zM457 0h1v1h-1zM462 0h1v1h-1zM476 0h1v1h-1zM478 0h1v1h-1zM493 0h1v1h-1zM495 0h1v1h-1z"/><path fill-opacity="0.58" d="M7 0h1v1h-1zM9 0h1v1h-1zM11 0h1v1h-1zM25 0h1v1h-1zM27 0h1v1h-1zM29 0h1v1h-1zM53 0h1v1h-1zM55 0h1v1h-1zM57 0h1v1h-1zM71 0h1v1h-1zM73 0h1v1h-1zM75 0h1v1h-1zM94 0h1v1h-1zM102 0h1v1h-1zM129 0h1v1h-1zM131 0h1v1h-1zM146 0h1v1h-1zM148 0h1v1h-1zM174 0h1v1h-1zM176 0h1v1h-1zM249 0h1v1h-1zM251 0h1v1h-1zM266 0h1v1h-1zM283 0h1v1h-1zM324 0h1v1h-1zM326 0h1v1h-1zM356 0h1v1h-1zM358 0h1v1h-1zM375 0h1v1h-1zM386 0h1v1h-1zM401 0h1v1h-1zM418 0h1v1h-1zM448 0h1v1h-1z"/><path fill-opacity="0.63" d="M100 0h1v1h-1zM113 0h1v1h-1zM167 0h1v1h-1zM192 0h1v1h-1zM194 0h1v1h-1zM196 0h1v1h-1zM203 0h1v1h-1zM205 0h1v1h-1zM230 0h1v1h-1zM310 0h1v1h-1zM336 0h1v1h-1zM460 0h1v1h-1zM512 0h1v1h-1z"/><path fill-opacity="0.73" d="M157 0h1v1h-1zM215 0h1v1h-1zM258 0h1v1h-1zM260 0h1v1h-1zM506 0h1v1h-1zM520 0h1v1h-1z"/><path fill-opacity="0.79" d="M455 0h1v1h-1z"/><path fill-opacity="0.84" d="M90 0h1v1h-1zM92 0h1v1h-1zM119 0h1v1h-1zM121 0h1v1h-1zM140 0h1v1h-1zM186 0h1v1h-1zM211 0h1v1h-1zM308 0h1v1h-1zM316 0h1v1h-1zM318 0h1v1h-1zM332 0h1v1h-1zM378 0h1v1h-1zM423 0h1v1h-1zM427 0h1v1h-1zM489 0h1v1h-1z"/><path fill-opacity="0.89" d="M17 0h1v1h-1zM19 0h1v1h-1zM36 0h1v1h-1zM38 0h1v1h-1zM44 0h1v1h-1zM46 0h1v1h-1zM63 0h1v1h-1zM65 0h1v1h-1zM82 0h1v1h-1zM84 0h1v1h-1zM109 0h1v1h-1zM111 0h1v1h-1zM136 0h1v1h-1zM138 0h1v1h-1zM155 0h1v1h-1zM165 0h1v1h-1zM184 0h1v1h-1zM213 0h1v1h-1zM232 0h1v1h-1zM243 0h1v1h-1zM245 0h1v1h-1zM273 0h1v1h-1zM275 0h1v1h-1zM288 0h1v1h-1zM290 0h1v1h-1zM303 0h1v1h-1zM305 0h1v1h-1zM334 0h1v1h-1zM348 0h1v1h-1zM350 0h1v1h-1zM365 0h1v1h-1zM367 0h1v1h-1zM393 0h1v1h-1zM395 0h1v1h-1zM408 0h1v1h-1zM410 0h1v1h-1zM425 0h1v1h-1zM440 0h1v1h-1zM442 0h1v1h-1zM468 0h1v1h-1zM470 0h1v1h-1zM485 0h1v1h-1zM487 0h1v1h-1zM504 0h1v1h-1zM513 0h1v1h-1z"/></svg>
<svg class="a" style="left:0;top:174px;opacity:0.55" width="524" height="1" fill="#1e1e1e"><path fill-opacity="0.21" d="M13 0h1v1h-1zM15 0h1v1h-1zM21 0h1v1h-1zM23 0h1v1h-1zM30 0h1v1h-1zM40 0h1v1h-1zM42 0h1v1h-1zM59 0h1v1h-1zM61 0h1v1h-1zM67 0h1v1h-1zM69 0h1v1h-1zM87 0h1v1h-1zM89 0h1v1h-1zM96 0h1v1h-1zM98 0h1v1h-1zM105 0h1v1h-1zM107 0h1v1h-1zM115 0h1v1h-1zM117 0h1v1h-1zM125 0h1v1h-1zM142 0h1v1h-1zM144 0h1v1h-1zM152 0h1v1h-1zM159 0h1v1h-1zM161 0h1v1h-1zM169 0h1v1h-1zM182 0h1v1h-1zM187 0h1v1h-1zM189 0h1v1h-1zM200 0h1v1h-1zM208 0h1v1h-1zM209 0h1v1h-1zM217 0h1v1h-1zM219 0h1v1h-1zM227 0h1v1h-1zM234 0h1v1h-1zM239 0h1v1h-1zM255 0h1v1h-1zM262 0h1v1h-1zM269 0h1v1h-1zM271 0h1v1h-1zM278 0h1v1h-1zM292 0h1v1h-1zM301 0h1v1h-1zM312 0h1v1h-1zM314 0h1v1h-1zM322 0h1v1h-1zM330 0h1v1h-1zM337 0h1v1h-1zM345 0h1v1h-1zM346 0h1v1h-1zM353 0h1v1h-1zM355 0h1v1h-1zM361 0h1v1h-1zM363 0h1v1h-1zM370 0h1v1h-1zM382 0h1v1h-1zM389 0h1v1h-1zM391 0h1v1h-1zM397 0h1v1h-1zM405 0h1v1h-1zM406 0h1v1h-1zM412 0h1v1h-1zM421 0h1v1h-1zM429 0h1v1h-1zM436 0h1v1h-1zM438 0h1v1h-1zM444 0h1v1h-1zM465 0h1v1h-1zM466 0h1v1h-1zM474 0h1v1h-1zM481 0h1v1h-1zM483 0h1v1h-1zM491 0h1v1h-1zM508 0h1v1h-1zM510 0h1v1h-1zM517 0h1v1h-1z"/><path fill-opacity="0.26" d="M3 0h1v1h-1zM4 0h1v1h-1zM32 0h1v1h-1zM33 0h1v1h-1zM49 0h1v1h-1zM50 0h1v1h-1zM78 0h1v1h-1zM79 0h1v1h-1zM124 0h1v1h-1zM199 0h1v1h-1zM501 0h1v1h-1z"/><path fill-opacity="0.32" d="M8 0h1v1h-1zM10 0h1v1h-1zM18 0h1v1h-1zM26 0h1v1h-1zM28 0h1v1h-1zM37 0h1v1h-1zM45 0h1v1h-1zM54 0h1v1h-1zM56 0h1v1h-1zM64 0h1v1h-1zM72 0h1v1h-1zM74 0h1v1h-1zM83 0h1v1h-1zM91 0h1v1h-1zM93 0h1v1h-1zM101 0h1v1h-1zM110 0h1v1h-1zM112 0h1v1h-1zM120 0h1v1h-1zM128 0h1v1h-1zM130 0h1v1h-1zM132 0h1v1h-1zM137 0h1v1h-1zM147 0h1v1h-1zM156 0h1v1h-1zM166 0h1v1h-1zM173 0h1v1h-1zM175 0h1v1h-1zM177 0h1v1h-1zM185 0h1v1h-1zM193 0h1v1h-1zM195 0h1v1h-1zM204 0h1v1h-1zM212 0h1v1h-1zM214 0h1v1h-1zM222 0h1v1h-1zM231 0h1v1h-1zM236 0h1v1h-1zM237 0h1v1h-1zM244 0h1v1h-1zM250 0h1v1h-1zM265 0h1v1h-1zM274 0h1v1h-1zM282 0h1v1h-1zM284 0h1v1h-1zM289 0h1v1h-1zM297 0h1v1h-1zM299 0h1v1h-1zM304 0h1v1h-1zM309 0h1v1h-1zM317 0h1v1h-1zM325 0h1v1h-1zM327 0h1v1h-1zM333 0h1v1h-1zM335 0h1v1h-1zM341 0h1v1h-1zM349 0h1v1h-1zM366 0h1v1h-1zM374 0h1v1h-1zM376 0h1v1h-1zM385 0h1v1h-1zM394 0h1v1h-1zM400 0h1v1h-1zM402 0h1v1h-1zM409 0h1v1h-1zM417 0h1v1h-1zM419 0h1v1h-1zM424 0h1v1h-1zM426 0h1v1h-1zM432 0h1v1h-1zM434 0h1v1h-1zM441 0h1v1h-1zM447 0h1v1h-1zM449 0h1v1h-1zM451 0h1v1h-1zM456 0h1v1h-1zM461 0h1v1h-1zM469 0h1v1h-1zM477 0h1v1h-1zM479 0h1v1h-1zM486 0h1v1h-1zM488 0h1v1h-1zM490 0h1v1h-1zM494 0h1v1h-1zM496 0h1v1h-1zM500 0h1v1h-1zM505 0h1v1h-1zM514 0h1v1h-1z"/><path fill-opacity="0.37" d="M357 0h1v1h-1z"/><path fill-opacity="0.42" d="M133 0h1v1h-1zM149 0h1v1h-1zM164 0h1v1h-1zM178 0h1v1h-1zM224 0h1v1h-1zM252 0h1v1h-1zM267 0h1v1h-1zM319 0h1v1h-1zM359 0h1v1h-1zM387 0h1v1h-1zM403 0h1v1h-1zM497 0h1v1h-1z"/><path fill-opacity="0.53" d="M127 0h1v1h-1zM172 0h1v1h-1zM221 0h1v1h-1zM223 0h1v1h-1zM264 0h1v1h-1zM281 0h1v1h-1zM285 0h1v1h-1zM296 0h1v1h-1zM298 0h1v1h-1zM328 0h1v1h-1zM340 0h1v1h-1zM342 0h1v1h-1zM373 0h1v1h-1zM384 0h1v1h-1zM399 0h1v1h-1zM416 0h1v1h-1zM431 0h1v1h-1zM433 0h1v1h-1zM446 0h1v1h-1zM450 0h1v1h-1zM457 0h1v1h-1zM462 0h1v1h-1zM476 0h1v1h-1zM478 0h1v1h-1zM493 0h1v1h-1zM495 0h1v1h-1z"/><path fill-opacity="0.58" d="M7 0h1v1h-1zM9 0h1v1h-1zM11 0h1v1h-1zM25 0h1v1h-1zM27 0h1v1h-1zM29 0h1v1h-1zM53 0h1v1h-1zM55 0h1v1h-1zM57 0h1v1h-1zM71 0h1v1h-1zM73 0h1v1h-1zM75 0h1v1h-1zM94 0h1v1h-1zM102 0h1v1h-1zM129 0h1v1h-1zM131 0h1v1h-1zM146 0h1v1h-1zM148 0h1v1h-1zM174 0h1v1h-1zM176 0h1v1h-1zM249 0h1v1h-1zM251 0h1v1h-1zM266 0h1v1h-1zM283 0h1v1h-1zM324 0h1v1h-1zM326 0h1v1h-1zM356 0h1v1h-1zM358 0h1v1h-1zM375 0h1v1h-1zM386 0h1v1h-1zM401 0h1v1h-1zM418 0h1v1h-1zM448 0h1v1h-1z"/><path fill-opacity="0.63" d="M100 0h1v1h-1zM113 0h1v1h-1zM167 0h1v1h-1zM192 0h1v1h-1zM194 0h1v1h-1zM196 0h1v1h-1zM203 0h1v1h-1zM205 0h1v1h-1zM230 0h1v1h-1zM310 0h1v1h-1zM336 0h1v1h-1zM460 0h1v1h-1zM512 0h1v1h-1z"/><path fill-opacity="0.73" d="M157 0h1v1h-1zM215 0h1v1h-1zM258 0h1v1h-1zM260 0h1v1h-1zM506 0h1v1h-1zM520 0h1v1h-1z"/><path fill-opacity="0.79" d="M455 0h1v1h-1z"/><path fill-opacity="0.84" d="M90 0h1v1h-1zM92 0h1v1h-1zM119 0h1v1h-1zM121 0h1v1h-1zM140 0h1v1h-1zM186 0h1v1h-1zM211 0h1v1h-1zM308 0h1v1h-1zM316 0h1v1h-1zM318 0h1v1h-1zM332 0h1v1h-1zM378 0h1v1h-1zM423 0h1v1h-1zM427 0h1v1h-1zM489 0h1v1h-1z"/><path fill-opacity="0.89" d="M17 0h1v1h-1zM19 0h1v1h-1zM36 0h1v1h-1zM38 0h1v1h-1zM44 0h1v1h-1zM46 0h1v1h-1zM63 0h1v1h-1zM65 0h1v1h-1zM82 0h1v1h-1zM84 0h1v1h-1zM109 0h1v1h-1zM111 0h1v1h-1zM136 0h1v1h-1zM138 0h1v1h-1zM155 0h1v1h-1zM165 0h1v1h-1zM184 0h1v1h-1zM213 0h1v1h-1zM232 0h1v1h-1zM243 0h1v1h-1zM245 0h1v1h-1zM273 0h1v1h-1zM275 0h1v1h-1zM288 0h1v1h-1zM290 0h1v1h-1zM303 0h1v1h-1zM305 0h1v1h-1zM334 0h1v1h-1zM348 0h1v1h-1zM350 0h1v1h-1zM365 0h1v1h-1zM367 0h1v1h-1zM393 0h1v1h-1zM395 0h1v1h-1zM408 0h1v1h-1zM410 0h1v1h-1zM425 0h1v1h-1zM440 0h1v1h-1zM442 0h1v1h-1zM468 0h1v1h-1zM470 0h1v1h-1zM485 0h1v1h-1zM487 0h1v1h-1zM504 0h1v1h-1zM513 0h1v1h-1z"/></svg>
<svg class="a" style="left:0;top:204px;opacity:0.45" width="524" height="1" fill="#1e1e1e"><path fill-opacity="0.21" d="M13 0h1v1h-1zM15 0h1v1h-1zM21 0h1v1h-1zM23 0h1v1h-1zM30 0h1v1h-1zM40 0h1v1h-1zM42 0h1v1h-1zM59 0h1v1h-1zM61 0h1v1h-1zM67 0h1v1h-1zM69 0h1v1h-1zM87 0h1v1h-1zM89 0h1v1h-1zM96 0h1v1h-1zM98 0h1v1h-1zM105 0h1v1h-1zM107 0h1v1h-1zM115 0h1v1h-1zM117 0h1v1h-1zM125 0h1v1h-1zM142 0h1v1h-1zM144 0h1v1h-1zM152 0h1v1h-1zM159 0h1v1h-1zM161 0h1v1h-1zM169 0h1v1h-1zM182 0h1v1h-1zM187 0h1v1h-1zM189 0h1v1h-1zM200 0h1v1h-1zM208 0h1v1h-1zM209 0h1v1h-1zM217 0h1v1h-1zM219 0h1v1h-1zM227 0h1v1h-1zM234 0h1v1h-1zM239 0h1v1h-1zM255 0h1v1h-1zM262 0h1v1h-1zM269 0h1v1h-1zM271 0h1v1h-1zM278 0h1v1h-1zM292 0h1v1h-1zM301 0h1v1h-1zM312 0h1v1h-1zM314 0h1v1h-1zM322 0h1v1h-1zM330 0h1v1h-1zM337 0h1v1h-1zM345 0h1v1h-1zM346 0h1v1h-1zM353 0h1v1h-1zM355 0h1v1h-1zM361 0h1v1h-1zM363 0h1v1h-1zM370 0h1v1h-1zM382 0h1v1h-1zM389 0h1v1h-1zM391 0h1v1h-1zM397 0h1v1h-1zM405 0h1v1h-1zM406 0h1v1h-1zM412 0h1v1h-1zM421 0h1v1h-1zM429 0h1v1h-1zM436 0h1v1h-1zM438 0h1v1h-1zM444 0h1v1h-1zM465 0h1v1h-1zM466 0h1v1h-1zM474 0h1v1h-1zM481 0h1v1h-1zM483 0h1v1h-1zM491 0h1v1h-1zM508 0h1v1h-1zM510 0h1v1h-1zM517 0h1v1h-1z"/><path fill-opacity="0.26" d="M3 0h1v1h-1zM4 0h1v1h-1zM32 0h1v1h-1zM33 0h1v1h-1zM49 0h1v1h-1zM50 0h1v1h-1zM78 0h1v1h-1zM79 0h1v1h-1zM124 0h1v1h-1zM199 0h1v1h-1zM501 0h1v1h-1z"/><path fill-opacity="0.32" d="M8 0h1v1h-1zM10 0h1v1h-1zM18 0h1v1h-1zM26 0h1v1h-1zM28 0h1v1h-1zM37 0h1v1h-1zM45 0h1v1h-1zM54 0h1v1h-1zM56 0h1v1h-1zM64 0h1v1h-1zM72 0h1v1h-1zM74 0h1v1h-1zM83 0h1v1h-1zM91 0h1v1h-1zM93 0h1v1h-1zM101 0h1v1h-1zM110 0h1v1h-1zM112 0h1v1h-1zM120 0h1v1h-1zM128 0h1v1h-1zM130 0h1v1h-1zM132 0h1v1h-1zM137 0h1v1h-1zM147 0h1v1h-1zM156 0h1v1h-1zM166 0h1v1h-1zM173 0h1v1h-1zM175 0h1v1h-1zM177 0h1v1h-1zM185 0h1v1h-1zM193 0h1v1h-1zM195 0h1v1h-1zM204 0h1v1h-1zM212 0h1v1h-1zM214 0h1v1h-1zM222 0h1v1h-1zM231 0h1v1h-1zM236 0h1v1h-1zM237 0h1v1h-1zM244 0h1v1h-1zM250 0h1v1h-1zM265 0h1v1h-1zM274 0h1v1h-1zM282 0h1v1h-1zM284 0h1v1h-1zM289 0h1v1h-1zM297 0h1v1h-1zM299 0h1v1h-1zM304 0h1v1h-1zM309 0h1v1h-1zM317 0h1v1h-1zM325 0h1v1h-1zM327 0h1v1h-1zM333 0h1v1h-1zM335 0h1v1h-1zM341 0h1v1h-1zM349 0h1v1h-1zM366 0h1v1h-1zM374 0h1v1h-1zM376 0h1v1h-1zM385 0h1v1h-1zM394 0h1v1h-1zM400 0h1v1h-1zM402 0h1v1h-1zM409 0h1v1h-1zM417 0h1v1h-1zM419 0h1v1h-1zM424 0h1v1h-1zM426 0h1v1h-1zM432 0h1v1h-1zM434 0h1v1h-1zM441 0h1v1h-1zM447 0h1v1h-1zM449 0h1v1h-1zM451 0h1v1h-1zM456 0h1v1h-1zM461 0h1v1h-1zM469 0h1v1h-1zM477 0h1v1h-1zM479 0h1v1h-1zM486 0h1v1h-1zM488 0h1v1h-1zM490 0h1v1h-1zM494 0h1v1h-1zM496 0h1v1h-1zM500 0h1v1h-1zM505 0h1v1h-1zM514 0h1v1h-1z"/><path fill-opacity="0.37" d="M357 0h1v1h-1z"/><path fill-opacity="0.42" d="M133 0h1v1h-1zM149 0h1v1h-1zM164 0h1v1h-1zM178 0h1v1h-1zM224 0h1v1h-1zM252 0h1v1h-1zM267 0h1v1h-1zM319 0h1v1h-1zM359 0h1v1h-1zM387 0h1v1h-1zM403 0h1v1h-1zM497 0h1v1h-1z"/><path fill-opacity="0.53" d="M127 0h1v1h-1zM172 0h1v1h-1zM221 0h1v1h-1zM223 0h1v1h-1zM264 0h1v1h-1zM281 0h1v1h-1zM285 0h1v1h-1zM296 0h1v1h-1zM298 0h1v1h-1zM328 0h1v1h-1zM340 0h1v1h-1zM342 0h1v1h-1zM373 0h1v1h-1zM384 0h1v1h-1zM399 0h1v1h-1zM416 0h1v1h-1zM431 0h1v1h-1zM433 0h1v1h-1zM446 0h1v1h-1zM450 0h1v1h-1zM457 0h1v1h-1zM462 0h1v1h-1zM476 0h1v1h-1zM478 0h1v1h-1zM493 0h1v1h-1zM495 0h1v1h-1z"/><path fill-opacity="0.58" d="M7 0h1v1h-1zM9 0h1v1h-1zM11 0h1v1h-1zM25 0h1v1h-1zM27 0h1v1h-1zM29 0h1v1h-1zM53 0h1v1h-1zM55 0h1v1h-1zM57 0h1v1h-1zM71 0h1v1h-1zM73 0h1v1h-1zM75 0h1v1h-1zM94 0h1v1h-1zM102 0h1v1h-1zM129 0h1v1h-1zM131 0h1v1h-1zM146 0h1v1h-1zM148 0h1v1h-1zM174 0h1v1h-1zM176 0h1v1h-1zM249 0h1v1h-1zM251 0h1v1h-1zM266 0h1v1h-1zM283 0h1v1h-1zM324 0h1v1h-1zM326 0h1v1h-1zM356 0h1v1h-1zM358 0h1v1h-1zM375 0h1v1h-1zM386 0h1v1h-1zM401 0h1v1h-1zM418 0h1v1h-1zM448 0h1v1h-1z"/><path fill-opacity="0.63" d="M100 0h1v1h-1zM113 0h1v1h-1zM167 0h1v1h-1zM192 0h1v1h-1zM194 0h1v1h-1zM196 0h1v1h-1zM203 0h1v1h-1zM205 0h1v1h-1zM230 0h1v1h-1zM310 0h1v1h-1zM336 0h1v1h-1zM460 0h1v1h-1zM512 0h1v1h-1z"/><path fill-opacity="0.73" d="M157 0h1v1h-1zM215 0h1v1h-1zM258 0h1v1h-1zM260 0h1v1h-1zM506 0h1v1h-1zM520 0h1v1h-1z"/><path fill-opacity="0.79" d="M455 0h1v1h-1z"/><path fill-opacity="0.84" d="M90 0h1v1h-1zM92 0h1v1h-1zM119 0h1v1h-1zM121 0h1v1h-1zM140 0h1v1h-1zM186 0h1v1h-1zM211 0h1v1h-1zM308 0h1v1h-1zM316 0h1v1h-1zM318 0h1v1h-1zM332 0h1v1h-1zM378 0h1v1h-1zM423 0h1v1h-1zM427 0h1v1h-1zM489 0h1v1h-1z"/><path fill-opacity="0.89" d="M17 0h1v1h-1zM19 0h1v1h-1zM36 0h1v1h-1zM38 0h1v1h-1zM44 0h1v1h-1zM46 0h1v1h-1zM63 0h1v1h-1zM65 0h1v1h-1zM82 0h1v1h-1zM84 0h1v1h-1zM109 0h1v1h-1zM111 0h1v1h-1zM136 0h1v1h-1zM138 0h1v1h-1zM155 0h1v1h-1zM165 0h1v1h-1zM184 0h1v1h-1zM213 0h1v1h-1zM232 0h1v1h-1zM243 0h1v1h-1zM245 0h1v1h-1zM273 0h1v1h-1zM275 0h1v1h-1zM288 0h1v1h-1zM290 0h1v1h-1zM303 0h1v1h-1zM305 0h1v1h-1zM334 0h1v1h-1zM348 0h1v1h-1zM350 0h1v1h-1zM365 0h1v1h-1zM367 0h1v1h-1zM393 0h1v1h-1zM395 0h1v1h-1zM408 0h1v1h-1zM410 0h1v1h-1zM425 0h1v1h-1zM440 0h1v1h-1zM442 0h1v1h-1zM468 0h1v1h-1zM470 0h1v1h-1zM485 0h1v1h-1zM487 0h1v1h-1zM504 0h1v1h-1zM513 0h1v1h-1z"/></svg>
<svg class="a" style="left:0;top:205px;opacity:1" width="524" height="1" fill="#1e1e1e"><path fill-opacity="0.21" d="M13 0h1v1h-1zM15 0h1v1h-1zM21 0h1v1h-1zM23 0h1v1h-1zM30 0h1v1h-1zM40 0h1v1h-1zM42 0h1v1h-1zM59 0h1v1h-1zM61 0h1v1h-1zM67 0h1v1h-1zM69 0h1v1h-1zM87 0h1v1h-1zM89 0h1v1h-1zM96 0h1v1h-1zM98 0h1v1h-1zM105 0h1v1h-1zM107 0h1v1h-1zM115 0h1v1h-1zM117 0h1v1h-1zM125 0h1v1h-1zM142 0h1v1h-1zM144 0h1v1h-1zM152 0h1v1h-1zM159 0h1v1h-1zM161 0h1v1h-1zM169 0h1v1h-1zM182 0h1v1h-1zM187 0h1v1h-1zM189 0h1v1h-1zM200 0h1v1h-1zM208 0h1v1h-1zM209 0h1v1h-1zM217 0h1v1h-1zM219 0h1v1h-1zM227 0h1v1h-1zM234 0h1v1h-1zM239 0h1v1h-1zM255 0h1v1h-1zM262 0h1v1h-1zM269 0h1v1h-1zM271 0h1v1h-1zM278 0h1v1h-1zM292 0h1v1h-1zM301 0h1v1h-1zM312 0h1v1h-1zM314 0h1v1h-1zM322 0h1v1h-1zM330 0h1v1h-1zM337 0h1v1h-1zM345 0h1v1h-1zM346 0h1v1h-1zM353 0h1v1h-1zM355 0h1v1h-1zM361 0h1v1h-1zM363 0h1v1h-1zM370 0h1v1h-1zM382 0h1v1h-1zM389 0h1v1h-1zM391 0h1v1h-1zM397 0h1v1h-1zM405 0h1v1h-1zM406 0h1v1h-1zM412 0h1v1h-1zM421 0h1v1h-1zM429 0h1v1h-1zM436 0h1v1h-1zM438 0h1v1h-1zM444 0h1v1h-1zM465 0h1v1h-1zM466 0h1v1h-1zM474 0h1v1h-1zM481 0h1v1h-1zM483 0h1v1h-1zM491 0h1v1h-1zM508 0h1v1h-1zM510 0h1v1h-1zM517 0h1v1h-1z"/><path fill-opacity="0.26" d="M3 0h1v1h-1zM4 0h1v1h-1zM32 0h1v1h-1zM33 0h1v1h-1zM49 0h1v1h-1zM50 0h1v1h-1zM78 0h1v1h-1zM79 0h1v1h-1zM124 0h1v1h-1zM199 0h1v1h-1zM501 0h1v1h-1z"/><path fill-opacity="0.32" d="M8 0h1v1h-1zM10 0h1v1h-1zM18 0h1v1h-1zM26 0h1v1h-1zM28 0h1v1h-1zM37 0h1v1h-1zM45 0h1v1h-1zM54 0h1v1h-1zM56 0h1v1h-1zM64 0h1v1h-1zM72 0h1v1h-1zM74 0h1v1h-1zM83 0h1v1h-1zM91 0h1v1h-1zM93 0h1v1h-1zM101 0h1v1h-1zM110 0h1v1h-1zM112 0h1v1h-1zM120 0h1v1h-1zM128 0h1v1h-1zM130 0h1v1h-1zM132 0h1v1h-1zM137 0h1v1h-1zM147 0h1v1h-1zM156 0h1v1h-1zM166 0h1v1h-1zM173 0h1v1h-1zM175 0h1v1h-1zM177 0h1v1h-1zM185 0h1v1h-1zM193 0h1v1h-1zM195 0h1v1h-1zM204 0h1v1h-1zM212 0h1v1h-1zM214 0h1v1h-1zM222 0h1v1h-1zM231 0h1v1h-1zM236 0h1v1h-1zM237 0h1v1h-1zM244 0h1v1h-1zM250 0h1v1h-1zM265 0h1v1h-1zM274 0h1v1h-1zM282 0h1v1h-1zM284 0h1v1h-1zM289 0h1v1h-1zM297 0h1v1h-1zM299 0h1v1h-1zM304 0h1v1h-1zM309 0h1v1h-1zM317 0h1v1h-1zM325 0h1v1h-1zM327 0h1v1h-1zM333 0h1v1h-1zM335 0h1v1h-1zM341 0h1v1h-1zM349 0h1v1h-1zM366 0h1v1h-1zM374 0h1v1h-1zM376 0h1v1h-1zM385 0h1v1h-1zM394 0h1v1h-1zM400 0h1v1h-1zM402 0h1v1h-1zM409 0h1v1h-1zM417 0h1v1h-1zM419 0h1v1h-1zM424 0h1v1h-1zM426 0h1v1h-1zM432 0h1v1h-1zM434 0h1v1h-1zM441 0h1v1h-1zM447 0h1v1h-1zM449 0h1v1h-1zM451 0h1v1h-1zM456 0h1v1h-1zM461 0h1v1h-1zM469 0h1v1h-1zM477 0h1v1h-1zM479 0h1v1h-1zM486 0h1v1h-1zM488 0h1v1h-1zM490 0h1v1h-1zM494 0h1v1h-1zM496 0h1v1h-1zM500 0h1v1h-1zM505 0h1v1h-1zM514 0h1v1h-1z"/><path fill-opacity="0.37" d="M357 0h1v1h-1z"/><path fill-opacity="0.42" d="M133 0h1v1h-1zM149 0h1v1h-1zM164 0h1v1h-1zM178 0h1v1h-1zM224 0h1v1h-1zM252 0h1v1h-1zM267 0h1v1h-1zM319 0h1v1h-1zM359 0h1v1h-1zM387 0h1v1h-1zM403 0h1v1h-1zM497 0h1v1h-1z"/><path fill-opacity="0.53" d="M127 0h1v1h-1zM172 0h1v1h-1zM221 0h1v1h-1zM223 0h1v1h-1zM264 0h1v1h-1zM281 0h1v1h-1zM285 0h1v1h-1zM296 0h1v1h-1zM298 0h1v1h-1zM328 0h1v1h-1zM340 0h1v1h-1zM342 0h1v1h-1zM373 0h1v1h-1zM384 0h1v1h-1zM399 0h1v1h-1zM416 0h1v1h-1zM431 0h1v1h-1zM433 0h1v1h-1zM446 0h1v1h-1zM450 0h1v1h-1zM457 0h1v1h-1zM462 0h1v1h-1zM476 0h1v1h-1zM478 0h1v1h-1zM493 0h1v1h-1zM495 0h1v1h-1z"/><path fill-opacity="0.58" d="M7 0h1v1h-1zM9 0h1v1h-1zM11 0h1v1h-1zM25 0h1v1h-1zM27 0h1v1h-1zM29 0h1v1h-1zM53 0h1v1h-1zM55 0h1v1h-1zM57 0h1v1h-1zM71 0h1v1h-1zM73 0h1v1h-1zM75 0h1v1h-1zM94 0h1v1h-1zM102 0h1v1h-1zM129 0h1v1h-1zM131 0h1v1h-1zM146 0h1v1h-1zM148 0h1v1h-1zM174 0h1v1h-1zM176 0h1v1h-1zM249 0h1v1h-1zM251 0h1v1h-1zM266 0h1v1h-1zM283 0h1v1h-1zM324 0h1v1h-1zM326 0h1v1h-1zM356 0h1v1h-1zM358 0h1v1h-1zM375 0h1v1h-1zM386 0h1v1h-1zM401 0h1v1h-1zM418 0h1v1h-1zM448 0h1v1h-1z"/><path fill-opacity="0.63" d="M100 0h1v1h-1zM113 0h1v1h-1zM167 0h1v1h-1zM192 0h1v1h-1zM194 0h1v1h-1zM196 0h1v1h-1zM203 0h1v1h-1zM205 0h1v1h-1zM230 0h1v1h-1zM310 0h1v1h-1zM336 0h1v1h-1zM460 0h1v1h-1zM512 0h1v1h-1z"/><path fill-opacity="0.73" d="M157 0h1v1h-1zM215 0h1v1h-1zM258 0h1v1h-1zM260 0h1v1h-1zM506 0h1v1h-1zM520 0h1v1h-1z"/><path fill-opacity="0.79" d="M455 0h1v1h-1z"/><path fill-opacity="0.84" d="M90 0h1v1h-1zM92 0h1v1h-1zM119 0h1v1h-1zM121 0h1v1h-1zM140 0h1v1h-1zM186 0h1v1h-1zM211 0h1v1h-1zM308 0h1v1h-1zM316 0h1v1h-1zM318 0h1v1h-1zM332 0h1v1h-1zM378 0h1v1h-1zM423 0h1v1h-1zM427 0h1v1h-1zM489 0h1v1h-1z"/><path fill-opacity="0.89" d="M17 0h1v1h-1zM19 0h1v1h-1zM36 0h1v1h-1zM38 0h1v1h-1zM44 0h1v1h-1zM46 0h1v1h-1zM63 0h1v1h-1zM65 0h1v1h-1zM82 0h1v1h-1zM84 0h1v1h-1zM109 0h1v1h-1zM111 0h1v1h-1zM136 0h1v1h-1zM138 0h1v1h-1zM155 0h1v1h-1zM165 0h1v1h-1zM184 0h1v1h-1zM213 0h1v1h-1zM232 0h1v1h-1zM243 0h1v1h-1zM245 0h1v1h-1zM273 0h1v1h-1zM275 0h1v1h-1zM288 0h1v1h-1zM290 0h1v1h-1zM303 0h1v1h-1zM305 0h1v1h-1zM334 0h1v1h-1zM348 0h1v1h-1zM350 0h1v1h-1zM365 0h1v1h-1zM367 0h1v1h-1zM393 0h1v1h-1zM395 0h1v1h-1zM408 0h1v1h-1zM410 0h1v1h-1zM425 0h1v1h-1zM440 0h1v1h-1zM442 0h1v1h-1zM468 0h1v1h-1zM470 0h1v1h-1zM485 0h1v1h-1zM487 0h1v1h-1zM504 0h1v1h-1zM513 0h1v1h-1z"/></svg>
<svg class="a" style="left:0;top:235px;opacity:0.5" width="524" height="1" fill="#1e1e1e"><path fill-opacity="0.21" d="M13 0h1v1h-1zM15 0h1v1h-1zM21 0h1v1h-1zM23 0h1v1h-1zM30 0h1v1h-1zM40 0h1v1h-1zM42 0h1v1h-1zM59 0h1v1h-1zM61 0h1v1h-1zM67 0h1v1h-1zM69 0h1v1h-1zM87 0h1v1h-1zM89 0h1v1h-1zM96 0h1v1h-1zM98 0h1v1h-1zM105 0h1v1h-1zM107 0h1v1h-1zM115 0h1v1h-1zM117 0h1v1h-1zM125 0h1v1h-1zM142 0h1v1h-1zM144 0h1v1h-1zM152 0h1v1h-1zM159 0h1v1h-1zM161 0h1v1h-1zM169 0h1v1h-1zM182 0h1v1h-1zM187 0h1v1h-1zM189 0h1v1h-1zM200 0h1v1h-1zM208 0h1v1h-1zM209 0h1v1h-1zM217 0h1v1h-1zM219 0h1v1h-1zM227 0h1v1h-1zM234 0h1v1h-1zM239 0h1v1h-1zM255 0h1v1h-1zM262 0h1v1h-1zM269 0h1v1h-1zM271 0h1v1h-1zM278 0h1v1h-1zM292 0h1v1h-1zM301 0h1v1h-1zM312 0h1v1h-1zM314 0h1v1h-1zM322 0h1v1h-1zM330 0h1v1h-1zM337 0h1v1h-1zM345 0h1v1h-1zM346 0h1v1h-1zM353 0h1v1h-1zM355 0h1v1h-1zM361 0h1v1h-1zM363 0h1v1h-1zM370 0h1v1h-1zM382 0h1v1h-1zM389 0h1v1h-1zM391 0h1v1h-1zM397 0h1v1h-1zM405 0h1v1h-1zM406 0h1v1h-1zM412 0h1v1h-1zM421 0h1v1h-1zM429 0h1v1h-1zM436 0h1v1h-1zM438 0h1v1h-1zM444 0h1v1h-1zM465 0h1v1h-1zM466 0h1v1h-1zM474 0h1v1h-1zM481 0h1v1h-1zM483 0h1v1h-1zM491 0h1v1h-1zM508 0h1v1h-1zM510 0h1v1h-1zM517 0h1v1h-1z"/><path fill-opacity="0.26" d="M3 0h1v1h-1zM4 0h1v1h-1zM32 0h1v1h-1zM33 0h1v1h-1zM49 0h1v1h-1zM50 0h1v1h-1zM78 0h1v1h-1zM79 0h1v1h-1zM124 0h1v1h-1zM199 0h1v1h-1zM501 0h1v1h-1z"/><path fill-opacity="0.32" d="M8 0h1v1h-1zM10 0h1v1h-1zM18 0h1v1h-1zM26 0h1v1h-1zM28 0h1v1h-1zM37 0h1v1h-1zM45 0h1v1h-1zM54 0h1v1h-1zM56 0h1v1h-1zM64 0h1v1h-1zM72 0h1v1h-1zM74 0h1v1h-1zM83 0h1v1h-1zM91 0h1v1h-1zM93 0h1v1h-1zM101 0h1v1h-1zM110 0h1v1h-1zM112 0h1v1h-1zM120 0h1v1h-1zM128 0h1v1h-1zM130 0h1v1h-1zM132 0h1v1h-1zM137 0h1v1h-1zM147 0h1v1h-1zM156 0h1v1h-1zM166 0h1v1h-1zM173 0h1v1h-1zM175 0h1v1h-1zM177 0h1v1h-1zM185 0h1v1h-1zM193 0h1v1h-1zM195 0h1v1h-1zM204 0h1v1h-1zM212 0h1v1h-1zM214 0h1v1h-1zM222 0h1v1h-1zM231 0h1v1h-1zM236 0h1v1h-1zM237 0h1v1h-1zM244 0h1v1h-1zM250 0h1v1h-1zM265 0h1v1h-1zM274 0h1v1h-1zM282 0h1v1h-1zM284 0h1v1h-1zM289 0h1v1h-1zM297 0h1v1h-1zM299 0h1v1h-1zM304 0h1v1h-1zM309 0h1v1h-1zM317 0h1v1h-1zM325 0h1v1h-1zM327 0h1v1h-1zM333 0h1v1h-1zM335 0h1v1h-1zM341 0h1v1h-1zM349 0h1v1h-1zM366 0h1v1h-1zM374 0h1v1h-1zM376 0h1v1h-1zM385 0h1v1h-1zM394 0h1v1h-1zM400 0h1v1h-1zM402 0h1v1h-1zM409 0h1v1h-1zM417 0h1v1h-1zM419 0h1v1h-1zM424 0h1v1h-1zM426 0h1v1h-1zM432 0h1v1h-1zM434 0h1v1h-1zM441 0h1v1h-1zM447 0h1v1h-1zM449 0h1v1h-1zM451 0h1v1h-1zM456 0h1v1h-1zM461 0h1v1h-1zM469 0h1v1h-1zM477 0h1v1h-1zM479 0h1v1h-1zM486 0h1v1h-1zM488 0h1v1h-1zM490 0h1v1h-1zM494 0h1v1h-1zM496 0h1v1h-1zM500 0h1v1h-1zM505 0h1v1h-1zM514 0h1v1h-1z"/><path fill-opacity="0.37" d="M357 0h1v1h-1z"/><path fill-opacity="0.42" d="M133 0h1v1h-1zM149 0h1v1h-1zM164 0h1v1h-1zM178 0h1v1h-1zM224 0h1v1h-1zM252 0h1v1h-1zM267 0h1v1h-1zM319 0h1v1h-1zM359 0h1v1h-1zM387 0h1v1h-1zM403 0h1v1h-1zM497 0h1v1h-1z"/><path fill-opacity="0.53" d="M127 0h1v1h-1zM172 0h1v1h-1zM221 0h1v1h-1zM223 0h1v1h-1zM264 0h1v1h-1zM281 0h1v1h-1zM285 0h1v1h-1zM296 0h1v1h-1zM298 0h1v1h-1zM328 0h1v1h-1zM340 0h1v1h-1zM342 0h1v1h-1zM373 0h1v1h-1zM384 0h1v1h-1zM399 0h1v1h-1zM416 0h1v1h-1zM431 0h1v1h-1zM433 0h1v1h-1zM446 0h1v1h-1zM450 0h1v1h-1zM457 0h1v1h-1zM462 0h1v1h-1zM476 0h1v1h-1zM478 0h1v1h-1zM493 0h1v1h-1zM495 0h1v1h-1z"/><path fill-opacity="0.58" d="M7 0h1v1h-1zM9 0h1v1h-1zM11 0h1v1h-1zM25 0h1v1h-1zM27 0h1v1h-1zM29 0h1v1h-1zM53 0h1v1h-1zM55 0h1v1h-1zM57 0h1v1h-1zM71 0h1v1h-1zM73 0h1v1h-1zM75 0h1v1h-1zM94 0h1v1h-1zM102 0h1v1h-1zM129 0h1v1h-1zM131 0h1v1h-1zM146 0h1v1h-1zM148 0h1v1h-1zM174 0h1v1h-1zM176 0h1v1h-1zM249 0h1v1h-1zM251 0h1v1h-1zM266 0h1v1h-1zM283 0h1v1h-1zM324 0h1v1h-1zM326 0h1v1h-1zM356 0h1v1h-1zM358 0h1v1h-1zM375 0h1v1h-1zM386 0h1v1h-1zM401 0h1v1h-1zM418 0h1v1h-1zM448 0h1v1h-1z"/><path fill-opacity="0.63" d="M100 0h1v1h-1zM113 0h1v1h-1zM167 0h1v1h-1zM192 0h1v1h-1zM194 0h1v1h-1zM196 0h1v1h-1zM203 0h1v1h-1zM205 0h1v1h-1zM230 0h1v1h-1zM310 0h1v1h-1zM336 0h1v1h-1zM460 0h1v1h-1zM512 0h1v1h-1z"/><path fill-opacity="0.73" d="M157 0h1v1h-1zM215 0h1v1h-1zM258 0h1v1h-1zM260 0h1v1h-1zM506 0h1v1h-1zM520 0h1v1h-1z"/><path fill-opacity="0.79" d="M455 0h1v1h-1z"/><path fill-opacity="0.84" d="M90 0h1v1h-1zM92 0h1v1h-1zM119 0h1v1h-1zM121 0h1v1h-1zM140 0h1v1h-1zM186 0h1v1h-1zM211 0h1v1h-1zM308 0h1v1h-1zM316 0h1v1h-1zM318 0h1v1h-1zM332 0h1v1h-1zM378 0h1v1h-1zM423 0h1v1h-1zM427 0h1v1h-1zM489 0h1v1h-1z"/><path fill-opacity="0.89" d="M17 0h1v1h-1zM19 0h1v1h-1zM36 0h1v1h-1zM38 0h1v1h-1zM44 0h1v1h-1zM46 0h1v1h-1zM63 0h1v1h-1zM65 0h1v1h-1zM82 0h1v1h-1zM84 0h1v1h-1zM109 0h1v1h-1zM111 0h1v1h-1zM136 0h1v1h-1zM138 0h1v1h-1zM155 0h1v1h-1zM165 0h1v1h-1zM184 0h1v1h-1zM213 0h1v1h-1zM232 0h1v1h-1zM243 0h1v1h-1zM245 0h1v1h-1zM273 0h1v1h-1zM275 0h1v1h-1zM288 0h1v1h-1zM290 0h1v1h-1zM303 0h1v1h-1zM305 0h1v1h-1zM334 0h1v1h-1zM348 0h1v1h-1zM350 0h1v1h-1zM365 0h1v1h-1zM367 0h1v1h-1zM393 0h1v1h-1zM395 0h1v1h-1zM408 0h1v1h-1zM410 0h1v1h-1zM425 0h1v1h-1zM440 0h1v1h-1zM442 0h1v1h-1zM468 0h1v1h-1zM470 0h1v1h-1zM485 0h1v1h-1zM487 0h1v1h-1zM504 0h1v1h-1zM513 0h1v1h-1z"/></svg>
<svg class="a" style="left:0;top:236px;opacity:1" width="524" height="1" fill="#1e1e1e"><path fill-opacity="0.21" d="M13 0h1v1h-1zM15 0h1v1h-1zM21 0h1v1h-1zM23 0h1v1h-1zM30 0h1v1h-1zM40 0h1v1h-1zM42 0h1v1h-1zM59 0h1v1h-1zM61 0h1v1h-1zM67 0h1v1h-1zM69 0h1v1h-1zM87 0h1v1h-1zM89 0h1v1h-1zM96 0h1v1h-1zM98 0h1v1h-1zM105 0h1v1h-1zM107 0h1v1h-1zM115 0h1v1h-1zM117 0h1v1h-1zM125 0h1v1h-1zM142 0h1v1h-1zM144 0h1v1h-1zM152 0h1v1h-1zM159 0h1v1h-1zM161 0h1v1h-1zM169 0h1v1h-1zM182 0h1v1h-1zM187 0h1v1h-1zM189 0h1v1h-1zM200 0h1v1h-1zM208 0h1v1h-1zM209 0h1v1h-1zM217 0h1v1h-1zM219 0h1v1h-1zM227 0h1v1h-1zM234 0h1v1h-1zM239 0h1v1h-1zM255 0h1v1h-1zM262 0h1v1h-1zM269 0h1v1h-1zM271 0h1v1h-1zM278 0h1v1h-1zM292 0h1v1h-1zM301 0h1v1h-1zM312 0h1v1h-1zM314 0h1v1h-1zM322 0h1v1h-1zM330 0h1v1h-1zM337 0h1v1h-1zM345 0h1v1h-1zM346 0h1v1h-1zM353 0h1v1h-1zM355 0h1v1h-1zM361 0h1v1h-1zM363 0h1v1h-1zM370 0h1v1h-1zM382 0h1v1h-1zM389 0h1v1h-1zM391 0h1v1h-1zM397 0h1v1h-1zM405 0h1v1h-1zM406 0h1v1h-1zM412 0h1v1h-1zM421 0h1v1h-1zM429 0h1v1h-1zM436 0h1v1h-1zM438 0h1v1h-1zM444 0h1v1h-1zM465 0h1v1h-1zM466 0h1v1h-1zM474 0h1v1h-1zM481 0h1v1h-1zM483 0h1v1h-1zM491 0h1v1h-1zM508 0h1v1h-1zM510 0h1v1h-1zM517 0h1v1h-1z"/><path fill-opacity="0.26" d="M3 0h1v1h-1zM4 0h1v1h-1zM32 0h1v1h-1zM33 0h1v1h-1zM49 0h1v1h-1zM50 0h1v1h-1zM78 0h1v1h-1zM79 0h1v1h-1zM124 0h1v1h-1zM199 0h1v1h-1zM501 0h1v1h-1z"/><path fill-opacity="0.32" d="M8 0h1v1h-1zM10 0h1v1h-1zM18 0h1v1h-1zM26 0h1v1h-1zM28 0h1v1h-1zM37 0h1v1h-1zM45 0h1v1h-1zM54 0h1v1h-1zM56 0h1v1h-1zM64 0h1v1h-1zM72 0h1v1h-1zM74 0h1v1h-1zM83 0h1v1h-1zM91 0h1v1h-1zM93 0h1v1h-1zM101 0h1v1h-1zM110 0h1v1h-1zM112 0h1v1h-1zM120 0h1v1h-1zM128 0h1v1h-1zM130 0h1v1h-1zM132 0h1v1h-1zM137 0h1v1h-1zM147 0h1v1h-1zM156 0h1v1h-1zM166 0h1v1h-1zM173 0h1v1h-1zM175 0h1v1h-1zM177 0h1v1h-1zM185 0h1v1h-1zM193 0h1v1h-1zM195 0h1v1h-1zM204 0h1v1h-1zM212 0h1v1h-1zM214 0h1v1h-1zM222 0h1v1h-1zM231 0h1v1h-1zM236 0h1v1h-1zM237 0h1v1h-1zM244 0h1v1h-1zM250 0h1v1h-1zM265 0h1v1h-1zM274 0h1v1h-1zM282 0h1v1h-1zM284 0h1v1h-1zM289 0h1v1h-1zM297 0h1v1h-1zM299 0h1v1h-1zM304 0h1v1h-1zM309 0h1v1h-1zM317 0h1v1h-1zM325 0h1v1h-1zM327 0h1v1h-1zM333 0h1v1h-1zM335 0h1v1h-1zM341 0h1v1h-1zM349 0h1v1h-1zM366 0h1v1h-1zM374 0h1v1h-1zM376 0h1v1h-1zM385 0h1v1h-1zM394 0h1v1h-1zM400 0h1v1h-1zM402 0h1v1h-1zM409 0h1v1h-1zM417 0h1v1h-1zM419 0h1v1h-1zM424 0h1v1h-1zM426 0h1v1h-1zM432 0h1v1h-1zM434 0h1v1h-1zM441 0h1v1h-1zM447 0h1v1h-1zM449 0h1v1h-1zM451 0h1v1h-1zM456 0h1v1h-1zM461 0h1v1h-1zM469 0h1v1h-1zM477 0h1v1h-1zM479 0h1v1h-1zM486 0h1v1h-1zM488 0h1v1h-1zM490 0h1v1h-1zM494 0h1v1h-1zM496 0h1v1h-1zM500 0h1v1h-1zM505 0h1v1h-1zM514 0h1v1h-1z"/><path fill-opacity="0.37" d="M357 0h1v1h-1z"/><path fill-opacity="0.42" d="M133 0h1v1h-1zM149 0h1v1h-1zM164 0h1v1h-1zM178 0h1v1h-1zM224 0h1v1h-1zM252 0h1v1h-1zM267 0h1v1h-1zM319 0h1v1h-1zM359 0h1v1h-1zM387 0h1v1h-1zM403 0h1v1h-1zM497 0h1v1h-1z"/><path fill-opacity="0.53" d="M127 0h1v1h-1zM172 0h1v1h-1zM221 0h1v1h-1zM223 0h1v1h-1zM264 0h1v1h-1zM281 0h1v1h-1zM285 0h1v1h-1zM296 0h1v1h-1zM298 0h1v1h-1zM328 0h1v1h-1zM340 0h1v1h-1zM342 0h1v1h-1zM373 0h1v1h-1zM384 0h1v1h-1zM399 0h1v1h-1zM416 0h1v1h-1zM431 0h1v1h-1zM433 0h1v1h-1zM446 0h1v1h-1zM450 0h1v1h-1zM457 0h1v1h-1zM462 0h1v1h-1zM476 0h1v1h-1zM478 0h1v1h-1zM493 0h1v1h-1zM495 0h1v1h-1z"/><path fill-opacity="0.58" d="M7 0h1v1h-1zM9 0h1v1h-1zM11 0h1v1h-1zM25 0h1v1h-1zM27 0h1v1h-1zM29 0h1v1h-1zM53 0h1v1h-1zM55 0h1v1h-1zM57 0h1v1h-1zM71 0h1v1h-1zM73 0h1v1h-1zM75 0h1v1h-1zM94 0h1v1h-1zM102 0h1v1h-1zM129 0h1v1h-1zM131 0h1v1h-1zM146 0h1v1h-1zM148 0h1v1h-1zM174 0h1v1h-1zM176 0h1v1h-1zM249 0h1v1h-1zM251 0h1v1h-1zM266 0h1v1h-1zM283 0h1v1h-1zM324 0h1v1h-1zM326 0h1v1h-1zM356 0h1v1h-1zM358 0h1v1h-1zM375 0h1v1h-1zM386 0h1v1h-1zM401 0h1v1h-1zM418 0h1v1h-1zM448 0h1v1h-1z"/><path fill-opacity="0.63" d="M100 0h1v1h-1zM113 0h1v1h-1zM167 0h1v1h-1zM192 0h1v1h-1zM194 0h1v1h-1zM196 0h1v1h-1zM203 0h1v1h-1zM205 0h1v1h-1zM230 0h1v1h-1zM310 0h1v1h-1zM336 0h1v1h-1zM460 0h1v1h-1zM512 0h1v1h-1z"/><path fill-opacity="0.73" d="M157 0h1v1h-1zM215 0h1v1h-1zM258 0h1v1h-1zM260 0h1v1h-1zM506 0h1v1h-1zM520 0h1v1h-1z"/><path fill-opacity="0.79" d="M455 0h1v1h-1z"/><path fill-opacity="0.84" d="M90 0h1v1h-1zM92 0h1v1h-1zM119 0h1v1h-1zM121 0h1v1h-1zM140 0h1v1h-1zM186 0h1v1h-1zM211 0h1v1h-1zM308 0h1v1h-1zM316 0h1v1h-1zM318 0h1v1h-1zM332 0h1v1h-1zM378 0h1v1h-1zM423 0h1v1h-1zM427 0h1v1h-1zM489 0h1v1h-1z"/><path fill-opacity="0.89" d="M17 0h1v1h-1zM19 0h1v1h-1zM36 0h1v1h-1zM38 0h1v1h-1zM44 0h1v1h-1zM46 0h1v1h-1zM63 0h1v1h-1zM65 0h1v1h-1zM82 0h1v1h-1zM84 0h1v1h-1zM109 0h1v1h-1zM111 0h1v1h-1zM136 0h1v1h-1zM138 0h1v1h-1zM155 0h1v1h-1zM165 0h1v1h-1zM184 0h1v1h-1zM213 0h1v1h-1zM232 0h1v1h-1zM243 0h1v1h-1zM245 0h1v1h-1zM273 0h1v1h-1zM275 0h1v1h-1zM288 0h1v1h-1zM290 0h1v1h-1zM303 0h1v1h-1zM305 0h1v1h-1zM334 0h1v1h-1zM348 0h1v1h-1zM350 0h1v1h-1zM365 0h1v1h-1zM367 0h1v1h-1zM393 0h1v1h-1zM395 0h1v1h-1zM408 0h1v1h-1zM410 0h1v1h-1zM425 0h1v1h-1zM440 0h1v1h-1zM442 0h1v1h-1zM468 0h1v1h-1zM470 0h1v1h-1zM485 0h1v1h-1zM487 0h1v1h-1zM504 0h1v1h-1zM513 0h1v1h-1z"/></svg>
<svg class="a" style="left:0;top:266px;opacity:0.55" width="524" height="1" fill="#1e1e1e"><path fill-opacity="0.21" d="M13 0h1v1h-1zM15 0h1v1h-1zM21 0h1v1h-1zM23 0h1v1h-1zM30 0h1v1h-1zM40 0h1v1h-1zM42 0h1v1h-1zM59 0h1v1h-1zM61 0h1v1h-1zM67 0h1v1h-1zM69 0h1v1h-1zM87 0h1v1h-1zM89 0h1v1h-1zM96 0h1v1h-1zM98 0h1v1h-1zM105 0h1v1h-1zM107 0h1v1h-1zM115 0h1v1h-1zM117 0h1v1h-1zM125 0h1v1h-1zM142 0h1v1h-1zM144 0h1v1h-1zM152 0h1v1h-1zM159 0h1v1h-1zM161 0h1v1h-1zM169 0h1v1h-1zM182 0h1v1h-1zM187 0h1v1h-1zM189 0h1v1h-1zM200 0h1v1h-1zM208 0h1v1h-1zM209 0h1v1h-1zM217 0h1v1h-1zM219 0h1v1h-1zM227 0h1v1h-1zM234 0h1v1h-1zM239 0h1v1h-1zM255 0h1v1h-1zM262 0h1v1h-1zM269 0h1v1h-1zM271 0h1v1h-1zM278 0h1v1h-1zM292 0h1v1h-1zM301 0h1v1h-1zM312 0h1v1h-1zM314 0h1v1h-1zM322 0h1v1h-1zM330 0h1v1h-1zM337 0h1v1h-1zM345 0h1v1h-1zM346 0h1v1h-1zM353 0h1v1h-1zM355 0h1v1h-1zM361 0h1v1h-1zM363 0h1v1h-1zM370 0h1v1h-1zM382 0h1v1h-1zM389 0h1v1h-1zM391 0h1v1h-1zM397 0h1v1h-1zM405 0h1v1h-1zM406 0h1v1h-1zM412 0h1v1h-1zM421 0h1v1h-1zM429 0h1v1h-1zM436 0h1v1h-1zM438 0h1v1h-1zM444 0h1v1h-1zM465 0h1v1h-1zM466 0h1v1h-1zM474 0h1v1h-1zM481 0h1v1h-1zM483 0h1v1h-1zM491 0h1v1h-1zM508 0h1v1h-1zM510 0h1v1h-1zM517 0h1v1h-1z"/><path fill-opacity="0.26" d="M3 0h1v1h-1zM4 0h1v1h-1zM32 0h1v1h-1zM33 0h1v1h-1zM49 0h1v1h-1zM50 0h1v1h-1zM78 0h1v1h-1zM79 0h1v1h-1zM124 0h1v1h-1zM199 0h1v1h-1zM501 0h1v1h-1z"/><path fill-opacity="0.32" d="M8 0h1v1h-1zM10 0h1v1h-1zM18 0h1v1h-1zM26 0h1v1h-1zM28 0h1v1h-1zM37 0h1v1h-1zM45 0h1v1h-1zM54 0h1v1h-1zM56 0h1v1h-1zM64 0h1v1h-1zM72 0h1v1h-1zM74 0h1v1h-1zM83 0h1v1h-1zM91 0h1v1h-1zM93 0h1v1h-1zM101 0h1v1h-1zM110 0h1v1h-1zM112 0h1v1h-1zM120 0h1v1h-1zM128 0h1v1h-1zM130 0h1v1h-1zM132 0h1v1h-1zM137 0h1v1h-1zM147 0h1v1h-1zM156 0h1v1h-1zM166 0h1v1h-1zM173 0h1v1h-1zM175 0h1v1h-1zM177 0h1v1h-1zM185 0h1v1h-1zM193 0h1v1h-1zM195 0h1v1h-1zM204 0h1v1h-1zM212 0h1v1h-1zM214 0h1v1h-1zM222 0h1v1h-1zM231 0h1v1h-1zM236 0h1v1h-1zM237 0h1v1h-1zM244 0h1v1h-1zM250 0h1v1h-1zM265 0h1v1h-1zM274 0h1v1h-1zM282 0h1v1h-1zM284 0h1v1h-1zM289 0h1v1h-1zM297 0h1v1h-1zM299 0h1v1h-1zM304 0h1v1h-1zM309 0h1v1h-1zM317 0h1v1h-1zM325 0h1v1h-1zM327 0h1v1h-1zM333 0h1v1h-1zM335 0h1v1h-1zM341 0h1v1h-1zM349 0h1v1h-1zM366 0h1v1h-1zM374 0h1v1h-1zM376 0h1v1h-1zM385 0h1v1h-1zM394 0h1v1h-1zM400 0h1v1h-1zM402 0h1v1h-1zM409 0h1v1h-1zM417 0h1v1h-1zM419 0h1v1h-1zM424 0h1v1h-1zM426 0h1v1h-1zM432 0h1v1h-1zM434 0h1v1h-1zM441 0h1v1h-1zM447 0h1v1h-1zM449 0h1v1h-1zM451 0h1v1h-1zM456 0h1v1h-1zM461 0h1v1h-1zM469 0h1v1h-1zM477 0h1v1h-1zM479 0h1v1h-1zM486 0h1v1h-1zM488 0h1v1h-1zM490 0h1v1h-1zM494 0h1v1h-1zM496 0h1v1h-1zM500 0h1v1h-1zM505 0h1v1h-1zM514 0h1v1h-1z"/><path fill-opacity="0.37" d="M357 0h1v1h-1z"/><path fill-opacity="0.42" d="M133 0h1v1h-1zM149 0h1v1h-1zM164 0h1v1h-1zM178 0h1v1h-1zM224 0h1v1h-1zM252 0h1v1h-1zM267 0h1v1h-1zM319 0h1v1h-1zM359 0h1v1h-1zM387 0h1v1h-1zM403 0h1v1h-1zM497 0h1v1h-1z"/><path fill-opacity="0.53" d="M127 0h1v1h-1zM172 0h1v1h-1zM221 0h1v1h-1zM223 0h1v1h-1zM264 0h1v1h-1zM281 0h1v1h-1zM285 0h1v1h-1zM296 0h1v1h-1zM298 0h1v1h-1zM328 0h1v1h-1zM340 0h1v1h-1zM342 0h1v1h-1zM373 0h1v1h-1zM384 0h1v1h-1zM399 0h1v1h-1zM416 0h1v1h-1zM431 0h1v1h-1zM433 0h1v1h-1zM446 0h1v1h-1zM450 0h1v1h-1zM457 0h1v1h-1zM462 0h1v1h-1zM476 0h1v1h-1zM478 0h1v1h-1zM493 0h1v1h-1zM495 0h1v1h-1z"/><path fill-opacity="0.58" d="M7 0h1v1h-1zM9 0h1v1h-1zM11 0h1v1h-1zM25 0h1v1h-1zM27 0h1v1h-1zM29 0h1v1h-1zM53 0h1v1h-1zM55 0h1v1h-1zM57 0h1v1h-1zM71 0h1v1h-1zM73 0h1v1h-1zM75 0h1v1h-1zM94 0h1v1h-1zM102 0h1v1h-1zM129 0h1v1h-1zM131 0h1v1h-1zM146 0h1v1h-1zM148 0h1v1h-1zM174 0h1v1h-1zM176 0h1v1h-1zM249 0h1v1h-1zM251 0h1v1h-1zM266 0h1v1h-1zM283 0h1v1h-1zM324 0h1v1h-1zM326 0h1v1h-1zM356 0h1v1h-1zM358 0h1v1h-1zM375 0h1v1h-1zM386 0h1v1h-1zM401 0h1v1h-1zM418 0h1v1h-1zM448 0h1v1h-1z"/><path fill-opacity="0.63" d="M100 0h1v1h-1zM113 0h1v1h-1zM167 0h1v1h-1zM192 0h1v1h-1zM194 0h1v1h-1zM196 0h1v1h-1zM203 0h1v1h-1zM205 0h1v1h-1zM230 0h1v1h-1zM310 0h1v1h-1zM336 0h1v1h-1zM460 0h1v1h-1zM512 0h1v1h-1z"/><path fill-opacity="0.73" d="M157 0h1v1h-1zM215 0h1v1h-1zM258 0h1v1h-1zM260 0h1v1h-1zM506 0h1v1h-1zM520 0h1v1h-1z"/><path fill-opacity="0.79" d="M455 0h1v1h-1z"/><path fill-opacity="0.84" d="M90 0h1v1h-1zM92 0h1v1h-1zM119 0h1v1h-1zM121 0h1v1h-1zM140 0h1v1h-1zM186 0h1v1h-1zM211 0h1v1h-1zM308 0h1v1h-1zM316 0h1v1h-1zM318 0h1v1h-1zM332 0h1v1h-1zM378 0h1v1h-1zM423 0h1v1h-1zM427 0h1v1h-1zM489 0h1v1h-1z"/><path fill-opacity="0.89" d="M17 0h1v1h-1zM19 0h1v1h-1zM36 0h1v1h-1zM38 0h1v1h-1zM44 0h1v1h-1zM46 0h1v1h-1zM63 0h1v1h-1zM65 0h1v1h-1zM82 0h1v1h-1zM84 0h1v1h-1zM109 0h1v1h-1zM111 0h1v1h-1zM136 0h1v1h-1zM138 0h1v1h-1zM155 0h1v1h-1zM165 0h1v1h-1zM184 0h1v1h-1zM213 0h1v1h-1zM232 0h1v1h-1zM243 0h1v1h-1zM245 0h1v1h-1zM273 0h1v1h-1zM275 0h1v1h-1zM288 0h1v1h-1zM290 0h1v1h-1zM303 0h1v1h-1zM305 0h1v1h-1zM334 0h1v1h-1zM348 0h1v1h-1zM350 0h1v1h-1zM365 0h1v1h-1zM367 0h1v1h-1zM393 0h1v1h-1zM395 0h1v1h-1zM408 0h1v1h-1zM410 0h1v1h-1zM425 0h1v1h-1zM440 0h1v1h-1zM442 0h1v1h-1zM468 0h1v1h-1zM470 0h1v1h-1zM485 0h1v1h-1zM487 0h1v1h-1zM504 0h1v1h-1zM513 0h1v1h-1z"/></svg>
<svg class="a" style="left:0;top:297px;opacity:0.55" width="524" height="1" fill="#1e1e1e"><path fill-opacity="0.21" d="M13 0h1v1h-1zM15 0h1v1h-1zM21 0h1v1h-1zM23 0h1v1h-1zM30 0h1v1h-1zM40 0h1v1h-1zM42 0h1v1h-1zM59 0h1v1h-1zM61 0h1v1h-1zM67 0h1v1h-1zM69 0h1v1h-1zM87 0h1v1h-1zM89 0h1v1h-1zM96 0h1v1h-1zM98 0h1v1h-1zM105 0h1v1h-1zM107 0h1v1h-1zM115 0h1v1h-1zM117 0h1v1h-1zM125 0h1v1h-1zM142 0h1v1h-1zM144 0h1v1h-1zM152 0h1v1h-1zM159 0h1v1h-1zM161 0h1v1h-1zM169 0h1v1h-1zM182 0h1v1h-1zM187 0h1v1h-1zM189 0h1v1h-1zM200 0h1v1h-1zM208 0h1v1h-1zM209 0h1v1h-1zM217 0h1v1h-1zM219 0h1v1h-1zM227 0h1v1h-1zM234 0h1v1h-1zM239 0h1v1h-1zM255 0h1v1h-1zM262 0h1v1h-1zM269 0h1v1h-1zM271 0h1v1h-1zM278 0h1v1h-1zM292 0h1v1h-1zM301 0h1v1h-1zM312 0h1v1h-1zM314 0h1v1h-1zM322 0h1v1h-1zM330 0h1v1h-1zM337 0h1v1h-1zM345 0h1v1h-1zM346 0h1v1h-1zM353 0h1v1h-1zM355 0h1v1h-1zM361 0h1v1h-1zM363 0h1v1h-1zM370 0h1v1h-1zM382 0h1v1h-1zM389 0h1v1h-1zM391 0h1v1h-1zM397 0h1v1h-1zM405 0h1v1h-1zM406 0h1v1h-1zM412 0h1v1h-1zM421 0h1v1h-1zM429 0h1v1h-1zM436 0h1v1h-1zM438 0h1v1h-1zM444 0h1v1h-1zM465 0h1v1h-1zM466 0h1v1h-1zM474 0h1v1h-1zM481 0h1v1h-1zM483 0h1v1h-1zM491 0h1v1h-1zM508 0h1v1h-1zM510 0h1v1h-1zM517 0h1v1h-1z"/><path fill-opacity="0.26" d="M3 0h1v1h-1zM4 0h1v1h-1zM32 0h1v1h-1zM33 0h1v1h-1zM49 0h1v1h-1zM50 0h1v1h-1zM78 0h1v1h-1zM79 0h1v1h-1zM124 0h1v1h-1zM199 0h1v1h-1zM501 0h1v1h-1z"/><path fill-opacity="0.32" d="M8 0h1v1h-1zM10 0h1v1h-1zM18 0h1v1h-1zM26 0h1v1h-1zM28 0h1v1h-1zM37 0h1v1h-1zM45 0h1v1h-1zM54 0h1v1h-1zM56 0h1v1h-1zM64 0h1v1h-1zM72 0h1v1h-1zM74 0h1v1h-1zM83 0h1v1h-1zM91 0h1v1h-1zM93 0h1v1h-1zM101 0h1v1h-1zM110 0h1v1h-1zM112 0h1v1h-1zM120 0h1v1h-1zM128 0h1v1h-1zM130 0h1v1h-1zM132 0h1v1h-1zM137 0h1v1h-1zM147 0h1v1h-1zM156 0h1v1h-1zM166 0h1v1h-1zM173 0h1v1h-1zM175 0h1v1h-1zM177 0h1v1h-1zM185 0h1v1h-1zM193 0h1v1h-1zM195 0h1v1h-1zM204 0h1v1h-1zM212 0h1v1h-1zM214 0h1v1h-1zM222 0h1v1h-1zM231 0h1v1h-1zM236 0h1v1h-1zM237 0h1v1h-1zM244 0h1v1h-1zM250 0h1v1h-1zM265 0h1v1h-1zM274 0h1v1h-1zM282 0h1v1h-1zM284 0h1v1h-1zM289 0h1v1h-1zM297 0h1v1h-1zM299 0h1v1h-1zM304 0h1v1h-1zM309 0h1v1h-1zM317 0h1v1h-1zM325 0h1v1h-1zM327 0h1v1h-1zM333 0h1v1h-1zM335 0h1v1h-1zM341 0h1v1h-1zM349 0h1v1h-1zM366 0h1v1h-1zM374 0h1v1h-1zM376 0h1v1h-1zM385 0h1v1h-1zM394 0h1v1h-1zM400 0h1v1h-1zM402 0h1v1h-1zM409 0h1v1h-1zM417 0h1v1h-1zM419 0h1v1h-1zM424 0h1v1h-1zM426 0h1v1h-1zM432 0h1v1h-1zM434 0h1v1h-1zM441 0h1v1h-1zM447 0h1v1h-1zM449 0h1v1h-1zM451 0h1v1h-1zM456 0h1v1h-1zM461 0h1v1h-1zM469 0h1v1h-1zM477 0h1v1h-1zM479 0h1v1h-1zM486 0h1v1h-1zM488 0h1v1h-1zM490 0h1v1h-1zM494 0h1v1h-1zM496 0h1v1h-1zM500 0h1v1h-1zM505 0h1v1h-1zM514 0h1v1h-1z"/><path fill-opacity="0.37" d="M357 0h1v1h-1z"/><path fill-opacity="0.42" d="M133 0h1v1h-1zM149 0h1v1h-1zM164 0h1v1h-1zM178 0h1v1h-1zM224 0h1v1h-1zM252 0h1v1h-1zM267 0h1v1h-1zM319 0h1v1h-1zM359 0h1v1h-1zM387 0h1v1h-1zM403 0h1v1h-1zM497 0h1v1h-1z"/><path fill-opacity="0.53" d="M127 0h1v1h-1zM172 0h1v1h-1zM221 0h1v1h-1zM223 0h1v1h-1zM264 0h1v1h-1zM281 0h1v1h-1zM285 0h1v1h-1zM296 0h1v1h-1zM298 0h1v1h-1zM328 0h1v1h-1zM340 0h1v1h-1zM342 0h1v1h-1zM373 0h1v1h-1zM384 0h1v1h-1zM399 0h1v1h-1zM416 0h1v1h-1zM431 0h1v1h-1zM433 0h1v1h-1zM446 0h1v1h-1zM450 0h1v1h-1zM457 0h1v1h-1zM462 0h1v1h-1zM476 0h1v1h-1zM478 0h1v1h-1zM493 0h1v1h-1zM495 0h1v1h-1z"/><path fill-opacity="0.58" d="M7 0h1v1h-1zM9 0h1v1h-1zM11 0h1v1h-1zM25 0h1v1h-1zM27 0h1v1h-1zM29 0h1v1h-1zM53 0h1v1h-1zM55 0h1v1h-1zM57 0h1v1h-1zM71 0h1v1h-1zM73 0h1v1h-1zM75 0h1v1h-1zM94 0h1v1h-1zM102 0h1v1h-1zM129 0h1v1h-1zM131 0h1v1h-1zM146 0h1v1h-1zM148 0h1v1h-1zM174 0h1v1h-1zM176 0h1v1h-1zM249 0h1v1h-1zM251 0h1v1h-1zM266 0h1v1h-1zM283 0h1v1h-1zM324 0h1v1h-1zM326 0h1v1h-1zM356 0h1v1h-1zM358 0h1v1h-1zM375 0h1v1h-1zM386 0h1v1h-1zM401 0h1v1h-1zM418 0h1v1h-1zM448 0h1v1h-1z"/><path fill-opacity="0.63" d="M100 0h1v1h-1zM113 0h1v1h-1zM167 0h1v1h-1zM192 0h1v1h-1zM194 0h1v1h-1zM196 0h1v1h-1zM203 0h1v1h-1zM205 0h1v1h-1zM230 0h1v1h-1zM310 0h1v1h-1zM336 0h1v1h-1zM460 0h1v1h-1zM512 0h1v1h-1z"/><path fill-opacity="0.73" d="M157 0h1v1h-1zM215 0h1v1h-1zM258 0h1v1h-1zM260 0h1v1h-1zM506 0h1v1h-1zM520 0h1v1h-1z"/><path fill-opacity="0.79" d="M455 0h1v1h-1z"/><path fill-opacity="0.84" d="M90 0h1v1h-1zM92 0h1v1h-1zM119 0h1v1h-1zM121 0h1v1h-1zM140 0h1v1h-1zM186 0h1v1h-1zM211 0h1v1h-1zM308 0h1v1h-1zM316 0h1v1h-1zM318 0h1v1h-1zM332 0h1v1h-1zM378 0h1v1h-1zM423 0h1v1h-1zM427 0h1v1h-1zM489 0h1v1h-1z"/><path fill-opacity="0.89" d="M17 0h1v1h-1zM19 0h1v1h-1zM36 0h1v1h-1zM38 0h1v1h-1zM44 0h1v1h-1zM46 0h1v1h-1zM63 0h1v1h-1zM65 0h1v1h-1zM82 0h1v1h-1zM84 0h1v1h-1zM109 0h1v1h-1zM111 0h1v1h-1zM136 0h1v1h-1zM138 0h1v1h-1zM155 0h1v1h-1zM165 0h1v1h-1zM184 0h1v1h-1zM213 0h1v1h-1zM232 0h1v1h-1zM243 0h1v1h-1zM245 0h1v1h-1zM273 0h1v1h-1zM275 0h1v1h-1zM288 0h1v1h-1zM290 0h1v1h-1zM303 0h1v1h-1zM305 0h1v1h-1zM334 0h1v1h-1zM348 0h1v1h-1zM350 0h1v1h-1zM365 0h1v1h-1zM367 0h1v1h-1zM393 0h1v1h-1zM395 0h1v1h-1zM408 0h1v1h-1zM410 0h1v1h-1zM425 0h1v1h-1zM440 0h1v1h-1zM442 0h1v1h-1zM468 0h1v1h-1zM470 0h1v1h-1zM485 0h1v1h-1zM487 0h1v1h-1zM504 0h1v1h-1zM513 0h1v1h-1z"/></svg>
<svg class="a" style="left:0;top:327px;opacity:0.55" width="524" height="1" fill="#1e1e1e"><path fill-opacity="0.21" d="M13 0h1v1h-1zM15 0h1v1h-1zM21 0h1v1h-1zM23 0h1v1h-1zM30 0h1v1h-1zM40 0h1v1h-1zM42 0h1v1h-1zM59 0h1v1h-1zM61 0h1v1h-1zM67 0h1v1h-1zM69 0h1v1h-1zM87 0h1v1h-1zM89 0h1v1h-1zM96 0h1v1h-1zM98 0h1v1h-1zM105 0h1v1h-1zM107 0h1v1h-1zM115 0h1v1h-1zM117 0h1v1h-1zM125 0h1v1h-1zM142 0h1v1h-1zM144 0h1v1h-1zM152 0h1v1h-1zM159 0h1v1h-1zM161 0h1v1h-1zM169 0h1v1h-1zM182 0h1v1h-1zM187 0h1v1h-1zM189 0h1v1h-1zM200 0h1v1h-1zM208 0h1v1h-1zM209 0h1v1h-1zM217 0h1v1h-1zM219 0h1v1h-1zM227 0h1v1h-1zM234 0h1v1h-1zM239 0h1v1h-1zM255 0h1v1h-1zM262 0h1v1h-1zM269 0h1v1h-1zM271 0h1v1h-1zM278 0h1v1h-1zM292 0h1v1h-1zM301 0h1v1h-1zM312 0h1v1h-1zM314 0h1v1h-1zM322 0h1v1h-1zM330 0h1v1h-1zM337 0h1v1h-1zM345 0h1v1h-1zM346 0h1v1h-1zM353 0h1v1h-1zM355 0h1v1h-1zM361 0h1v1h-1zM363 0h1v1h-1zM370 0h1v1h-1zM382 0h1v1h-1zM389 0h1v1h-1zM391 0h1v1h-1zM397 0h1v1h-1zM405 0h1v1h-1zM406 0h1v1h-1zM412 0h1v1h-1zM421 0h1v1h-1zM429 0h1v1h-1zM436 0h1v1h-1zM438 0h1v1h-1zM444 0h1v1h-1zM465 0h1v1h-1zM466 0h1v1h-1zM474 0h1v1h-1zM481 0h1v1h-1zM483 0h1v1h-1zM491 0h1v1h-1zM508 0h1v1h-1zM510 0h1v1h-1zM517 0h1v1h-1z"/><path fill-opacity="0.26" d="M3 0h1v1h-1zM4 0h1v1h-1zM32 0h1v1h-1zM33 0h1v1h-1zM49 0h1v1h-1zM50 0h1v1h-1zM78 0h1v1h-1zM79 0h1v1h-1zM124 0h1v1h-1zM199 0h1v1h-1zM501 0h1v1h-1z"/><path fill-opacity="0.32" d="M8 0h1v1h-1zM10 0h1v1h-1zM18 0h1v1h-1zM26 0h1v1h-1zM28 0h1v1h-1zM37 0h1v1h-1zM45 0h1v1h-1zM54 0h1v1h-1zM56 0h1v1h-1zM64 0h1v1h-1zM72 0h1v1h-1zM74 0h1v1h-1zM83 0h1v1h-1zM91 0h1v1h-1zM93 0h1v1h-1zM101 0h1v1h-1zM110 0h1v1h-1zM112 0h1v1h-1zM120 0h1v1h-1zM128 0h1v1h-1zM130 0h1v1h-1zM132 0h1v1h-1zM137 0h1v1h-1zM147 0h1v1h-1zM156 0h1v1h-1zM166 0h1v1h-1zM173 0h1v1h-1zM175 0h1v1h-1zM177 0h1v1h-1zM185 0h1v1h-1zM193 0h1v1h-1zM195 0h1v1h-1zM204 0h1v1h-1zM212 0h1v1h-1zM214 0h1v1h-1zM222 0h1v1h-1zM231 0h1v1h-1zM236 0h1v1h-1zM237 0h1v1h-1zM244 0h1v1h-1zM250 0h1v1h-1zM265 0h1v1h-1zM274 0h1v1h-1zM282 0h1v1h-1zM284 0h1v1h-1zM289 0h1v1h-1zM297 0h1v1h-1zM299 0h1v1h-1zM304 0h1v1h-1zM309 0h1v1h-1zM317 0h1v1h-1zM325 0h1v1h-1zM327 0h1v1h-1zM333 0h1v1h-1zM335 0h1v1h-1zM341 0h1v1h-1zM349 0h1v1h-1zM366 0h1v1h-1zM374 0h1v1h-1zM376 0h1v1h-1zM385 0h1v1h-1zM394 0h1v1h-1zM400 0h1v1h-1zM402 0h1v1h-1zM409 0h1v1h-1zM417 0h1v1h-1zM419 0h1v1h-1zM424 0h1v1h-1zM426 0h1v1h-1zM432 0h1v1h-1zM434 0h1v1h-1zM441 0h1v1h-1zM447 0h1v1h-1zM449 0h1v1h-1zM451 0h1v1h-1zM456 0h1v1h-1zM461 0h1v1h-1zM469 0h1v1h-1zM477 0h1v1h-1zM479 0h1v1h-1zM486 0h1v1h-1zM488 0h1v1h-1zM490 0h1v1h-1zM494 0h1v1h-1zM496 0h1v1h-1zM500 0h1v1h-1zM505 0h1v1h-1zM514 0h1v1h-1z"/><path fill-opacity="0.37" d="M357 0h1v1h-1z"/><path fill-opacity="0.42" d="M133 0h1v1h-1zM149 0h1v1h-1zM164 0h1v1h-1zM178 0h1v1h-1zM224 0h1v1h-1zM252 0h1v1h-1zM267 0h1v1h-1zM319 0h1v1h-1zM359 0h1v1h-1zM387 0h1v1h-1zM403 0h1v1h-1zM497 0h1v1h-1z"/><path fill-opacity="0.53" d="M127 0h1v1h-1zM172 0h1v1h-1zM221 0h1v1h-1zM223 0h1v1h-1zM264 0h1v1h-1zM281 0h1v1h-1zM285 0h1v1h-1zM296 0h1v1h-1zM298 0h1v1h-1zM328 0h1v1h-1zM340 0h1v1h-1zM342 0h1v1h-1zM373 0h1v1h-1zM384 0h1v1h-1zM399 0h1v1h-1zM416 0h1v1h-1zM431 0h1v1h-1zM433 0h1v1h-1zM446 0h1v1h-1zM450 0h1v1h-1zM457 0h1v1h-1zM462 0h1v1h-1zM476 0h1v1h-1zM478 0h1v1h-1zM493 0h1v1h-1zM495 0h1v1h-1z"/><path fill-opacity="0.58" d="M7 0h1v1h-1zM9 0h1v1h-1zM11 0h1v1h-1zM25 0h1v1h-1zM27 0h1v1h-1zM29 0h1v1h-1zM53 0h1v1h-1zM55 0h1v1h-1zM57 0h1v1h-1zM71 0h1v1h-1zM73 0h1v1h-1zM75 0h1v1h-1zM94 0h1v1h-1zM102 0h1v1h-1zM129 0h1v1h-1zM131 0h1v1h-1zM146 0h1v1h-1zM148 0h1v1h-1zM174 0h1v1h-1zM176 0h1v1h-1zM249 0h1v1h-1zM251 0h1v1h-1zM266 0h1v1h-1zM283 0h1v1h-1zM324 0h1v1h-1zM326 0h1v1h-1zM356 0h1v1h-1zM358 0h1v1h-1zM375 0h1v1h-1zM386 0h1v1h-1zM401 0h1v1h-1zM418 0h1v1h-1zM448 0h1v1h-1z"/><path fill-opacity="0.63" d="M100 0h1v1h-1zM113 0h1v1h-1zM167 0h1v1h-1zM192 0h1v1h-1zM194 0h1v1h-1zM196 0h1v1h-1zM203 0h1v1h-1zM205 0h1v1h-1zM230 0h1v1h-1zM310 0h1v1h-1zM336 0h1v1h-1zM460 0h1v1h-1zM512 0h1v1h-1z"/><path fill-opacity="0.73" d="M157 0h1v1h-1zM215 0h1v1h-1zM258 0h1v1h-1zM260 0h1v1h-1zM506 0h1v1h-1zM520 0h1v1h-1z"/><path fill-opacity="0.79" d="M455 0h1v1h-1z"/><path fill-opacity="0.84" d="M90 0h1v1h-1zM92 0h1v1h-1zM119 0h1v1h-1zM121 0h1v1h-1zM140 0h1v1h-1zM186 0h1v1h-1zM211 0h1v1h-1zM308 0h1v1h-1zM316 0h1v1h-1zM318 0h1v1h-1zM332 0h1v1h-1zM378 0h1v1h-1zM423 0h1v1h-1zM427 0h1v1h-1zM489 0h1v1h-1z"/><path fill-opacity="0.89" d="M17 0h1v1h-1zM19 0h1v1h-1zM36 0h1v1h-1zM38 0h1v1h-1zM44 0h1v1h-1zM46 0h1v1h-1zM63 0h1v1h-1zM65 0h1v1h-1zM82 0h1v1h-1zM84 0h1v1h-1zM109 0h1v1h-1zM111 0h1v1h-1zM136 0h1v1h-1zM138 0h1v1h-1zM155 0h1v1h-1zM165 0h1v1h-1zM184 0h1v1h-1zM213 0h1v1h-1zM232 0h1v1h-1zM243 0h1v1h-1zM245 0h1v1h-1zM273 0h1v1h-1zM275 0h1v1h-1zM288 0h1v1h-1zM290 0h1v1h-1zM303 0h1v1h-1zM305 0h1v1h-1zM334 0h1v1h-1zM348 0h1v1h-1zM350 0h1v1h-1zM365 0h1v1h-1zM367 0h1v1h-1zM393 0h1v1h-1zM395 0h1v1h-1zM408 0h1v1h-1zM410 0h1v1h-1zM425 0h1v1h-1zM440 0h1v1h-1zM442 0h1v1h-1zM468 0h1v1h-1zM470 0h1v1h-1zM485 0h1v1h-1zM487 0h1v1h-1zM504 0h1v1h-1zM513 0h1v1h-1z"/></svg>
<svg class="a" style="left:0;top:328px;opacity:1" width="524" height="1" fill="#1e1e1e"><path fill-opacity="0.21" d="M13 0h1v1h-1zM15 0h1v1h-1zM21 0h1v1h-1zM23 0h1v1h-1zM30 0h1v1h-1zM40 0h1v1h-1zM42 0h1v1h-1zM59 0h1v1h-1zM61 0h1v1h-1zM67 0h1v1h-1zM69 0h1v1h-1zM87 0h1v1h-1zM89 0h1v1h-1zM96 0h1v1h-1zM98 0h1v1h-1zM105 0h1v1h-1zM107 0h1v1h-1zM115 0h1v1h-1zM117 0h1v1h-1zM125 0h1v1h-1zM142 0h1v1h-1zM144 0h1v1h-1zM152 0h1v1h-1zM159 0h1v1h-1zM161 0h1v1h-1zM169 0h1v1h-1zM182 0h1v1h-1zM187 0h1v1h-1zM189 0h1v1h-1zM200 0h1v1h-1zM208 0h1v1h-1zM209 0h1v1h-1zM217 0h1v1h-1zM219 0h1v1h-1zM227 0h1v1h-1zM234 0h1v1h-1zM239 0h1v1h-1zM255 0h1v1h-1zM262 0h1v1h-1zM269 0h1v1h-1zM271 0h1v1h-1zM278 0h1v1h-1zM292 0h1v1h-1zM301 0h1v1h-1zM312 0h1v1h-1zM314 0h1v1h-1zM322 0h1v1h-1zM330 0h1v1h-1zM337 0h1v1h-1zM345 0h1v1h-1zM346 0h1v1h-1zM353 0h1v1h-1zM355 0h1v1h-1zM361 0h1v1h-1zM363 0h1v1h-1zM370 0h1v1h-1zM382 0h1v1h-1zM389 0h1v1h-1zM391 0h1v1h-1zM397 0h1v1h-1zM405 0h1v1h-1zM406 0h1v1h-1zM412 0h1v1h-1zM421 0h1v1h-1zM429 0h1v1h-1zM436 0h1v1h-1zM438 0h1v1h-1zM444 0h1v1h-1zM465 0h1v1h-1zM466 0h1v1h-1zM474 0h1v1h-1zM481 0h1v1h-1zM483 0h1v1h-1zM491 0h1v1h-1zM508 0h1v1h-1zM510 0h1v1h-1zM517 0h1v1h-1z"/><path fill-opacity="0.26" d="M3 0h1v1h-1zM4 0h1v1h-1zM32 0h1v1h-1zM33 0h1v1h-1zM49 0h1v1h-1zM50 0h1v1h-1zM78 0h1v1h-1zM79 0h1v1h-1zM124 0h1v1h-1zM199 0h1v1h-1zM501 0h1v1h-1z"/><path fill-opacity="0.32" d="M8 0h1v1h-1zM10 0h1v1h-1zM18 0h1v1h-1zM26 0h1v1h-1zM28 0h1v1h-1zM37 0h1v1h-1zM45 0h1v1h-1zM54 0h1v1h-1zM56 0h1v1h-1zM64 0h1v1h-1zM72 0h1v1h-1zM74 0h1v1h-1zM83 0h1v1h-1zM91 0h1v1h-1zM93 0h1v1h-1zM101 0h1v1h-1zM110 0h1v1h-1zM112 0h1v1h-1zM120 0h1v1h-1zM128 0h1v1h-1zM130 0h1v1h-1zM132 0h1v1h-1zM137 0h1v1h-1zM147 0h1v1h-1zM156 0h1v1h-1zM166 0h1v1h-1zM173 0h1v1h-1zM175 0h1v1h-1zM177 0h1v1h-1zM185 0h1v1h-1zM193 0h1v1h-1zM195 0h1v1h-1zM204 0h1v1h-1zM212 0h1v1h-1zM214 0h1v1h-1zM222 0h1v1h-1zM231 0h1v1h-1zM236 0h1v1h-1zM237 0h1v1h-1zM244 0h1v1h-1zM250 0h1v1h-1zM265 0h1v1h-1zM274 0h1v1h-1zM282 0h1v1h-1zM284 0h1v1h-1zM289 0h1v1h-1zM297 0h1v1h-1zM299 0h1v1h-1zM304 0h1v1h-1zM309 0h1v1h-1zM317 0h1v1h-1zM325 0h1v1h-1zM327 0h1v1h-1zM333 0h1v1h-1zM335 0h1v1h-1zM341 0h1v1h-1zM349 0h1v1h-1zM366 0h1v1h-1zM374 0h1v1h-1zM376 0h1v1h-1zM385 0h1v1h-1zM394 0h1v1h-1zM400 0h1v1h-1zM402 0h1v1h-1zM409 0h1v1h-1zM417 0h1v1h-1zM419 0h1v1h-1zM424 0h1v1h-1zM426 0h1v1h-1zM432 0h1v1h-1zM434 0h1v1h-1zM441 0h1v1h-1zM447 0h1v1h-1zM449 0h1v1h-1zM451 0h1v1h-1zM456 0h1v1h-1zM461 0h1v1h-1zM469 0h1v1h-1zM477 0h1v1h-1zM479 0h1v1h-1zM486 0h1v1h-1zM488 0h1v1h-1zM490 0h1v1h-1zM494 0h1v1h-1zM496 0h1v1h-1zM500 0h1v1h-1zM505 0h1v1h-1zM514 0h1v1h-1z"/><path fill-opacity="0.37" d="M357 0h1v1h-1z"/><path fill-opacity="0.42" d="M133 0h1v1h-1zM149 0h1v1h-1zM164 0h1v1h-1zM178 0h1v1h-1zM224 0h1v1h-1zM252 0h1v1h-1zM267 0h1v1h-1zM319 0h1v1h-1zM359 0h1v1h-1zM387 0h1v1h-1zM403 0h1v1h-1zM497 0h1v1h-1z"/><path fill-opacity="0.53" d="M127 0h1v1h-1zM172 0h1v1h-1zM221 0h1v1h-1zM223 0h1v1h-1zM264 0h1v1h-1zM281 0h1v1h-1zM285 0h1v1h-1zM296 0h1v1h-1zM298 0h1v1h-1zM328 0h1v1h-1zM340 0h1v1h-1zM342 0h1v1h-1zM373 0h1v1h-1zM384 0h1v1h-1zM399 0h1v1h-1zM416 0h1v1h-1zM431 0h1v1h-1zM433 0h1v1h-1zM446 0h1v1h-1zM450 0h1v1h-1zM457 0h1v1h-1zM462 0h1v1h-1zM476 0h1v1h-1zM478 0h1v1h-1zM493 0h1v1h-1zM495 0h1v1h-1z"/><path fill-opacity="0.58" d="M7 0h1v1h-1zM9 0h1v1h-1zM11 0h1v1h-1zM25 0h1v1h-1zM27 0h1v1h-1zM29 0h1v1h-1zM53 0h1v1h-1zM55 0h1v1h-1zM57 0h1v1h-1zM71 0h1v1h-1zM73 0h1v1h-1zM75 0h1v1h-1zM94 0h1v1h-1zM102 0h1v1h-1zM129 0h1v1h-1zM131 0h1v1h-1zM146 0h1v1h-1zM148 0h1v1h-1zM174 0h1v1h-1zM176 0h1v1h-1zM249 0h1v1h-1zM251 0h1v1h-1zM266 0h1v1h-1zM283 0h1v1h-1zM324 0h1v1h-1zM326 0h1v1h-1zM356 0h1v1h-1zM358 0h1v1h-1zM375 0h1v1h-1zM386 0h1v1h-1zM401 0h1v1h-1zM418 0h1v1h-1zM448 0h1v1h-1z"/><path fill-opacity="0.63" d="M100 0h1v1h-1zM113 0h1v1h-1zM167 0h1v1h-1zM192 0h1v1h-1zM194 0h1v1h-1zM196 0h1v1h-1zM203 0h1v1h-1zM205 0h1v1h-1zM230 0h1v1h-1zM310 0h1v1h-1zM336 0h1v1h-1zM460 0h1v1h-1zM512 0h1v1h-1z"/><path fill-opacity="0.73" d="M157 0h1v1h-1zM215 0h1v1h-1zM258 0h1v1h-1zM260 0h1v1h-1zM506 0h1v1h-1zM520 0h1v1h-1z"/><path fill-opacity="0.79" d="M455 0h1v1h-1z"/><path fill-opacity="0.84" d="M90 0h1v1h-1zM92 0h1v1h-1zM119 0h1v1h-1zM121 0h1v1h-1zM140 0h1v1h-1zM186 0h1v1h-1zM211 0h1v1h-1zM308 0h1v1h-1zM316 0h1v1h-1zM318 0h1v1h-1zM332 0h1v1h-1zM378 0h1v1h-1zM423 0h1v1h-1zM427 0h1v1h-1zM489 0h1v1h-1z"/><path fill-opacity="0.89" d="M17 0h1v1h-1zM19 0h1v1h-1zM36 0h1v1h-1zM38 0h1v1h-1zM44 0h1v1h-1zM46 0h1v1h-1zM63 0h1v1h-1zM65 0h1v1h-1zM82 0h1v1h-1zM84 0h1v1h-1zM109 0h1v1h-1zM111 0h1v1h-1zM136 0h1v1h-1zM138 0h1v1h-1zM155 0h1v1h-1zM165 0h1v1h-1zM184 0h1v1h-1zM213 0h1v1h-1zM232 0h1v1h-1zM243 0h1v1h-1zM245 0h1v1h-1zM273 0h1v1h-1zM275 0h1v1h-1zM288 0h1v1h-1zM290 0h1v1h-1zM303 0h1v1h-1zM305 0h1v1h-1zM334 0h1v1h-1zM348 0h1v1h-1zM350 0h1v1h-1zM365 0h1v1h-1zM367 0h1v1h-1zM393 0h1v1h-1zM395 0h1v1h-1zM408 0h1v1h-1zM410 0h1v1h-1zM425 0h1v1h-1zM440 0h1v1h-1zM442 0h1v1h-1zM468 0h1v1h-1zM470 0h1v1h-1zM485 0h1v1h-1zM487 0h1v1h-1zM504 0h1v1h-1zM513 0h1v1h-1z"/></svg>
<svg class="a" style="left:0;top:358px;opacity:0.55" width="524" height="1" fill="#1e1e1e"><path fill-opacity="0.21" d="M13 0h1v1h-1zM15 0h1v1h-1zM21 0h1v1h-1zM23 0h1v1h-1zM30 0h1v1h-1zM40 0h1v1h-1zM42 0h1v1h-1zM59 0h1v1h-1zM61 0h1v1h-1zM67 0h1v1h-1zM69 0h1v1h-1zM87 0h1v1h-1zM89 0h1v1h-1zM96 0h1v1h-1zM98 0h1v1h-1zM105 0h1v1h-1zM107 0h1v1h-1zM115 0h1v1h-1zM117 0h1v1h-1zM125 0h1v1h-1zM142 0h1v1h-1zM144 0h1v1h-1zM152 0h1v1h-1zM159 0h1v1h-1zM161 0h1v1h-1zM169 0h1v1h-1zM182 0h1v1h-1zM187 0h1v1h-1zM189 0h1v1h-1zM200 0h1v1h-1zM208 0h1v1h-1zM209 0h1v1h-1zM217 0h1v1h-1zM219 0h1v1h-1zM227 0h1v1h-1zM234 0h1v1h-1zM239 0h1v1h-1zM255 0h1v1h-1zM262 0h1v1h-1zM269 0h1v1h-1zM271 0h1v1h-1zM278 0h1v1h-1zM292 0h1v1h-1zM301 0h1v1h-1zM312 0h1v1h-1zM314 0h1v1h-1zM322 0h1v1h-1zM330 0h1v1h-1zM337 0h1v1h-1zM345 0h1v1h-1zM346 0h1v1h-1zM353 0h1v1h-1zM355 0h1v1h-1zM361 0h1v1h-1zM363 0h1v1h-1zM370 0h1v1h-1zM382 0h1v1h-1zM389 0h1v1h-1zM391 0h1v1h-1zM397 0h1v1h-1zM405 0h1v1h-1zM406 0h1v1h-1zM412 0h1v1h-1zM421 0h1v1h-1zM429 0h1v1h-1zM436 0h1v1h-1zM438 0h1v1h-1zM444 0h1v1h-1zM465 0h1v1h-1zM466 0h1v1h-1zM474 0h1v1h-1zM481 0h1v1h-1zM483 0h1v1h-1zM491 0h1v1h-1zM508 0h1v1h-1zM510 0h1v1h-1zM517 0h1v1h-1z"/><path fill-opacity="0.26" d="M3 0h1v1h-1zM4 0h1v1h-1zM32 0h1v1h-1zM33 0h1v1h-1zM49 0h1v1h-1zM50 0h1v1h-1zM78 0h1v1h-1zM79 0h1v1h-1zM124 0h1v1h-1zM199 0h1v1h-1zM501 0h1v1h-1z"/><path fill-opacity="0.32" d="M8 0h1v1h-1zM10 0h1v1h-1zM18 0h1v1h-1zM26 0h1v1h-1zM28 0h1v1h-1zM37 0h1v1h-1zM45 0h1v1h-1zM54 0h1v1h-1zM56 0h1v1h-1zM64 0h1v1h-1zM72 0h1v1h-1zM74 0h1v1h-1zM83 0h1v1h-1zM91 0h1v1h-1zM93 0h1v1h-1zM101 0h1v1h-1zM110 0h1v1h-1zM112 0h1v1h-1zM120 0h1v1h-1zM128 0h1v1h-1zM130 0h1v1h-1zM132 0h1v1h-1zM137 0h1v1h-1zM147 0h1v1h-1zM156 0h1v1h-1zM166 0h1v1h-1zM173 0h1v1h-1zM175 0h1v1h-1zM177 0h1v1h-1zM185 0h1v1h-1zM193 0h1v1h-1zM195 0h1v1h-1zM204 0h1v1h-1zM212 0h1v1h-1zM214 0h1v1h-1zM222 0h1v1h-1zM231 0h1v1h-1zM236 0h1v1h-1zM237 0h1v1h-1zM244 0h1v1h-1zM250 0h1v1h-1zM265 0h1v1h-1zM274 0h1v1h-1zM282 0h1v1h-1zM284 0h1v1h-1zM289 0h1v1h-1zM297 0h1v1h-1zM299 0h1v1h-1zM304 0h1v1h-1zM309 0h1v1h-1zM317 0h1v1h-1zM325 0h1v1h-1zM327 0h1v1h-1zM333 0h1v1h-1zM335 0h1v1h-1zM341 0h1v1h-1zM349 0h1v1h-1zM366 0h1v1h-1zM374 0h1v1h-1zM376 0h1v1h-1zM385 0h1v1h-1zM394 0h1v1h-1zM400 0h1v1h-1zM402 0h1v1h-1zM409 0h1v1h-1zM417 0h1v1h-1zM419 0h1v1h-1zM424 0h1v1h-1zM426 0h1v1h-1zM432 0h1v1h-1zM434 0h1v1h-1zM441 0h1v1h-1zM447 0h1v1h-1zM449 0h1v1h-1zM451 0h1v1h-1zM456 0h1v1h-1zM461 0h1v1h-1zM469 0h1v1h-1zM477 0h1v1h-1zM479 0h1v1h-1zM486 0h1v1h-1zM488 0h1v1h-1zM490 0h1v1h-1zM494 0h1v1h-1zM496 0h1v1h-1zM500 0h1v1h-1zM505 0h1v1h-1zM514 0h1v1h-1z"/><path fill-opacity="0.37" d="M357 0h1v1h-1z"/><path fill-opacity="0.42" d="M133 0h1v1h-1zM149 0h1v1h-1zM164 0h1v1h-1zM178 0h1v1h-1zM224 0h1v1h-1zM252 0h1v1h-1zM267 0h1v1h-1zM319 0h1v1h-1zM359 0h1v1h-1zM387 0h1v1h-1zM403 0h1v1h-1zM497 0h1v1h-1z"/><path fill-opacity="0.53" d="M127 0h1v1h-1zM172 0h1v1h-1zM221 0h1v1h-1zM223 0h1v1h-1zM264 0h1v1h-1zM281 0h1v1h-1zM285 0h1v1h-1zM296 0h1v1h-1zM298 0h1v1h-1zM328 0h1v1h-1zM340 0h1v1h-1zM342 0h1v1h-1zM373 0h1v1h-1zM384 0h1v1h-1zM399 0h1v1h-1zM416 0h1v1h-1zM431 0h1v1h-1zM433 0h1v1h-1zM446 0h1v1h-1zM450 0h1v1h-1zM457 0h1v1h-1zM462 0h1v1h-1zM476 0h1v1h-1zM478 0h1v1h-1zM493 0h1v1h-1zM495 0h1v1h-1z"/><path fill-opacity="0.58" d="M7 0h1v1h-1zM9 0h1v1h-1zM11 0h1v1h-1zM25 0h1v1h-1zM27 0h1v1h-1zM29 0h1v1h-1zM53 0h1v1h-1zM55 0h1v1h-1zM57 0h1v1h-1zM71 0h1v1h-1zM73 0h1v1h-1zM75 0h1v1h-1zM94 0h1v1h-1zM102 0h1v1h-1zM129 0h1v1h-1zM131 0h1v1h-1zM146 0h1v1h-1zM148 0h1v1h-1zM174 0h1v1h-1zM176 0h1v1h-1zM249 0h1v1h-1zM251 0h1v1h-1zM266 0h1v1h-1zM283 0h1v1h-1zM324 0h1v1h-1zM326 0h1v1h-1zM356 0h1v1h-1zM358 0h1v1h-1zM375 0h1v1h-1zM386 0h1v1h-1zM401 0h1v1h-1zM418 0h1v1h-1zM448 0h1v1h-1z"/><path fill-opacity="0.63" d="M100 0h1v1h-1zM113 0h1v1h-1zM167 0h1v1h-1zM192 0h1v1h-1zM194 0h1v1h-1zM196 0h1v1h-1zM203 0h1v1h-1zM205 0h1v1h-1zM230 0h1v1h-1zM310 0h1v1h-1zM336 0h1v1h-1zM460 0h1v1h-1zM512 0h1v1h-1z"/><path fill-opacity="0.73" d="M157 0h1v1h-1zM215 0h1v1h-1zM258 0h1v1h-1zM260 0h1v1h-1zM506 0h1v1h-1zM520 0h1v1h-1z"/><path fill-opacity="0.79" d="M455 0h1v1h-1z"/><path fill-opacity="0.84" d="M90 0h1v1h-1zM92 0h1v1h-1zM119 0h1v1h-1zM121 0h1v1h-1zM140 0h1v1h-1zM186 0h1v1h-1zM211 0h1v1h-1zM308 0h1v1h-1zM316 0h1v1h-1zM318 0h1v1h-1zM332 0h1v1h-1zM378 0h1v1h-1zM423 0h1v1h-1zM427 0h1v1h-1zM489 0h1v1h-1z"/><path fill-opacity="0.89" d="M17 0h1v1h-1zM19 0h1v1h-1zM36 0h1v1h-1zM38 0h1v1h-1zM44 0h1v1h-1zM46 0h1v1h-1zM63 0h1v1h-1zM65 0h1v1h-1zM82 0h1v1h-1zM84 0h1v1h-1zM109 0h1v1h-1zM111 0h1v1h-1zM136 0h1v1h-1zM138 0h1v1h-1zM155 0h1v1h-1zM165 0h1v1h-1zM184 0h1v1h-1zM213 0h1v1h-1zM232 0h1v1h-1zM243 0h1v1h-1zM245 0h1v1h-1zM273 0h1v1h-1zM275 0h1v1h-1zM288 0h1v1h-1zM290 0h1v1h-1zM303 0h1v1h-1zM305 0h1v1h-1zM334 0h1v1h-1zM348 0h1v1h-1zM350 0h1v1h-1zM365 0h1v1h-1zM367 0h1v1h-1zM393 0h1v1h-1zM395 0h1v1h-1zM408 0h1v1h-1zM410 0h1v1h-1zM425 0h1v1h-1zM440 0h1v1h-1zM442 0h1v1h-1zM468 0h1v1h-1zM470 0h1v1h-1zM485 0h1v1h-1zM487 0h1v1h-1zM504 0h1v1h-1zM513 0h1v1h-1z"/></svg>
<svg class="a" style="left:0;top:359px;opacity:1" width="524" height="1" fill="#1e1e1e"><path fill-opacity="0.21" d="M13 0h1v1h-1zM15 0h1v1h-1zM21 0h1v1h-1zM23 0h1v1h-1zM30 0h1v1h-1zM40 0h1v1h-1zM42 0h1v1h-1zM59 0h1v1h-1zM61 0h1v1h-1zM67 0h1v1h-1zM69 0h1v1h-1zM87 0h1v1h-1zM89 0h1v1h-1zM96 0h1v1h-1zM98 0h1v1h-1zM105 0h1v1h-1zM107 0h1v1h-1zM115 0h1v1h-1zM117 0h1v1h-1zM125 0h1v1h-1zM142 0h1v1h-1zM144 0h1v1h-1zM152 0h1v1h-1zM159 0h1v1h-1zM161 0h1v1h-1zM169 0h1v1h-1zM182 0h1v1h-1zM187 0h1v1h-1zM189 0h1v1h-1zM200 0h1v1h-1zM208 0h1v1h-1zM209 0h1v1h-1zM217 0h1v1h-1zM219 0h1v1h-1zM227 0h1v1h-1zM234 0h1v1h-1zM239 0h1v1h-1zM255 0h1v1h-1zM262 0h1v1h-1zM269 0h1v1h-1zM271 0h1v1h-1zM278 0h1v1h-1zM292 0h1v1h-1zM301 0h1v1h-1zM312 0h1v1h-1zM314 0h1v1h-1zM322 0h1v1h-1zM330 0h1v1h-1zM337 0h1v1h-1zM345 0h1v1h-1zM346 0h1v1h-1zM353 0h1v1h-1zM355 0h1v1h-1zM361 0h1v1h-1zM363 0h1v1h-1zM370 0h1v1h-1zM382 0h1v1h-1zM389 0h1v1h-1zM391 0h1v1h-1zM397 0h1v1h-1zM405 0h1v1h-1zM406 0h1v1h-1zM412 0h1v1h-1zM421 0h1v1h-1zM429 0h1v1h-1zM436 0h1v1h-1zM438 0h1v1h-1zM444 0h1v1h-1zM465 0h1v1h-1zM466 0h1v1h-1zM474 0h1v1h-1zM481 0h1v1h-1zM483 0h1v1h-1zM491 0h1v1h-1zM508 0h1v1h-1zM510 0h1v1h-1zM517 0h1v1h-1z"/><path fill-opacity="0.26" d="M3 0h1v1h-1zM4 0h1v1h-1zM32 0h1v1h-1zM33 0h1v1h-1zM49 0h1v1h-1zM50 0h1v1h-1zM78 0h1v1h-1zM79 0h1v1h-1zM124 0h1v1h-1zM199 0h1v1h-1zM501 0h1v1h-1z"/><path fill-opacity="0.32" d="M8 0h1v1h-1zM10 0h1v1h-1zM18 0h1v1h-1zM26 0h1v1h-1zM28 0h1v1h-1zM37 0h1v1h-1zM45 0h1v1h-1zM54 0h1v1h-1zM56 0h1v1h-1zM64 0h1v1h-1zM72 0h1v1h-1zM74 0h1v1h-1zM83 0h1v1h-1zM91 0h1v1h-1zM93 0h1v1h-1zM101 0h1v1h-1zM110 0h1v1h-1zM112 0h1v1h-1zM120 0h1v1h-1zM128 0h1v1h-1zM130 0h1v1h-1zM132 0h1v1h-1zM137 0h1v1h-1zM147 0h1v1h-1zM156 0h1v1h-1zM166 0h1v1h-1zM173 0h1v1h-1zM175 0h1v1h-1zM177 0h1v1h-1zM185 0h1v1h-1zM193 0h1v1h-1zM195 0h1v1h-1zM204 0h1v1h-1zM212 0h1v1h-1zM214 0h1v1h-1zM222 0h1v1h-1zM231 0h1v1h-1zM236 0h1v1h-1zM237 0h1v1h-1zM244 0h1v1h-1zM250 0h1v1h-1zM265 0h1v1h-1zM274 0h1v1h-1zM282 0h1v1h-1zM284 0h1v1h-1zM289 0h1v1h-1zM297 0h1v1h-1zM299 0h1v1h-1zM304 0h1v1h-1zM309 0h1v1h-1zM317 0h1v1h-1zM325 0h1v1h-1zM327 0h1v1h-1zM333 0h1v1h-1zM335 0h1v1h-1zM341 0h1v1h-1zM349 0h1v1h-1zM366 0h1v1h-1zM374 0h1v1h-1zM376 0h1v1h-1zM385 0h1v1h-1zM394 0h1v1h-1zM400 0h1v1h-1zM402 0h1v1h-1zM409 0h1v1h-1zM417 0h1v1h-1zM419 0h1v1h-1zM424 0h1v1h-1zM426 0h1v1h-1zM432 0h1v1h-1zM434 0h1v1h-1zM441 0h1v1h-1zM447 0h1v1h-1zM449 0h1v1h-1zM451 0h1v1h-1zM456 0h1v1h-1zM461 0h1v1h-1zM469 0h1v1h-1zM477 0h1v1h-1zM479 0h1v1h-1zM486 0h1v1h-1zM488 0h1v1h-1zM490 0h1v1h-1zM494 0h1v1h-1zM496 0h1v1h-1zM500 0h1v1h-1zM505 0h1v1h-1zM514 0h1v1h-1z"/><path fill-opacity="0.37" d="M357 0h1v1h-1z"/><path fill-opacity="0.42" d="M133 0h1v1h-1zM149 0h1v1h-1zM164 0h1v1h-1zM178 0h1v1h-1zM224 0h1v1h-1zM252 0h1v1h-1zM267 0h1v1h-1zM319 0h1v1h-1zM359 0h1v1h-1zM387 0h1v1h-1zM403 0h1v1h-1zM497 0h1v1h-1z"/><path fill-opacity="0.53" d="M127 0h1v1h-1zM172 0h1v1h-1zM221 0h1v1h-1zM223 0h1v1h-1zM264 0h1v1h-1zM281 0h1v1h-1zM285 0h1v1h-1zM296 0h1v1h-1zM298 0h1v1h-1zM328 0h1v1h-1zM340 0h1v1h-1zM342 0h1v1h-1zM373 0h1v1h-1zM384 0h1v1h-1zM399 0h1v1h-1zM416 0h1v1h-1zM431 0h1v1h-1zM433 0h1v1h-1zM446 0h1v1h-1zM450 0h1v1h-1zM457 0h1v1h-1zM462 0h1v1h-1zM476 0h1v1h-1zM478 0h1v1h-1zM493 0h1v1h-1zM495 0h1v1h-1z"/><path fill-opacity="0.58" d="M7 0h1v1h-1zM9 0h1v1h-1zM11 0h1v1h-1zM25 0h1v1h-1zM27 0h1v1h-1zM29 0h1v1h-1zM53 0h1v1h-1zM55 0h1v1h-1zM57 0h1v1h-1zM71 0h1v1h-1zM73 0h1v1h-1zM75 0h1v1h-1zM94 0h1v1h-1zM102 0h1v1h-1zM129 0h1v1h-1zM131 0h1v1h-1zM146 0h1v1h-1zM148 0h1v1h-1zM174 0h1v1h-1zM176 0h1v1h-1zM249 0h1v1h-1zM251 0h1v1h-1zM266 0h1v1h-1zM283 0h1v1h-1zM324 0h1v1h-1zM326 0h1v1h-1zM356 0h1v1h-1zM358 0h1v1h-1zM375 0h1v1h-1zM386 0h1v1h-1zM401 0h1v1h-1zM418 0h1v1h-1zM448 0h1v1h-1z"/><path fill-opacity="0.63" d="M100 0h1v1h-1zM113 0h1v1h-1zM167 0h1v1h-1zM192 0h1v1h-1zM194 0h1v1h-1zM196 0h1v1h-1zM203 0h1v1h-1zM205 0h1v1h-1zM230 0h1v1h-1zM310 0h1v1h-1zM336 0h1v1h-1zM460 0h1v1h-1zM512 0h1v1h-1z"/><path fill-opacity="0.73" d="M157 0h1v1h-1zM215 0h1v1h-1zM258 0h1v1h-1zM260 0h1v1h-1zM506 0h1v1h-1zM520 0h1v1h-1z"/><path fill-opacity="0.79" d="M455 0h1v1h-1z"/><path fill-opacity="0.84" d="M90 0h1v1h-1zM92 0h1v1h-1zM119 0h1v1h-1zM121 0h1v1h-1zM140 0h1v1h-1zM186 0h1v1h-1zM211 0h1v1h-1zM308 0h1v1h-1zM316 0h1v1h-1zM318 0h1v1h-1zM332 0h1v1h-1zM378 0h1v1h-1zM423 0h1v1h-1zM427 0h1v1h-1zM489 0h1v1h-1z"/><path fill-opacity="0.89" d="M17 0h1v1h-1zM19 0h1v1h-1zM36 0h1v1h-1zM38 0h1v1h-1zM44 0h1v1h-1zM46 0h1v1h-1zM63 0h1v1h-1zM65 0h1v1h-1zM82 0h1v1h-1zM84 0h1v1h-1zM109 0h1v1h-1zM111 0h1v1h-1zM136 0h1v1h-1zM138 0h1v1h-1zM155 0h1v1h-1zM165 0h1v1h-1zM184 0h1v1h-1zM213 0h1v1h-1zM232 0h1v1h-1zM243 0h1v1h-1zM245 0h1v1h-1zM273 0h1v1h-1zM275 0h1v1h-1zM288 0h1v1h-1zM290 0h1v1h-1zM303 0h1v1h-1zM305 0h1v1h-1zM334 0h1v1h-1zM348 0h1v1h-1zM350 0h1v1h-1zM365 0h1v1h-1zM367 0h1v1h-1zM393 0h1v1h-1zM395 0h1v1h-1zM408 0h1v1h-1zM410 0h1v1h-1zM425 0h1v1h-1zM440 0h1v1h-1zM442 0h1v1h-1zM468 0h1v1h-1zM470 0h1v1h-1zM485 0h1v1h-1zM487 0h1v1h-1zM504 0h1v1h-1zM513 0h1v1h-1z"/></svg>
<div class="t" style="left:241px;top:31.15px;letter-spacing:-0.300px;">O. R</div>
<div class="t c" style="left:286px;top:13.05px;">Lower</div>
<div class="t c" style="left:286.5px;top:31.15px;letter-spacing:0.050px;">95%CI</div>
<div class="t c" style="left:361px;top:13.05px;">Upper</div>
<div class="t c" style="left:361.5px;top:31.15px;letter-spacing:0.150px;">95% CI</div>
<div class="t c" style="left:439.5px;top:31.15px;letter-spacing:0.150px;"><i>p</i>-Value</div>
<div class="t" style="left:19px;top:60.15px;letter-spacing:0.120px;">LQT1 (compared with LQT2)</div>
<div class="n" style="left:251.20px;top:59.98px;font-size:14.2px;transform:scaleX(0.91);"><span style="right:-1.97px">1.</span><span style="left:1.97px">3</span></div>
<div class="n" style="left:326.00px;top:59.98px;font-size:14.2px;transform:scaleX(0.91);"><span style="right:-1.97px">0.</span><span style="left:1.97px">5</span></div>
<div class="n" style="left:404.00px;top:59.98px;font-size:14.2px;transform:scaleX(0.91);"><span style="right:-1.97px">3.</span><span style="left:1.97px">8</span></div>
<div class="n" style="left:476.00px;top:59.98px;font-size:14.2px;transform:scaleX(0.91);"><span style="right:-1.97px">0.</span><span style="left:1.97px">60</span></div>
<div class="t" style="left:19px;top:91.15px;letter-spacing:0.300px;">QTc&gt;470 ms</div>
<div class="n" style="left:251.20px;top:90.98px;font-size:14.2px;transform:scaleX(0.91);"><span style="right:-1.97px">1.</span><span style="left:1.97px">1</span></div>
<div class="n" style="left:326.00px;top:90.98px;font-size:14.2px;transform:scaleX(0.91);"><span style="right:-1.97px">0.</span><span style="left:1.97px">4</span></div>
<div class="n" style="left:404.00px;top:90.98px;font-size:14.2px;transform:scaleX(0.91);"><span style="right:-1.97px">3.</span><span style="left:1.97px">0</span></div>
<div class="n" style="left:476.00px;top:90.98px;font-size:14.2px;transform:scaleX(0.91);"><span style="right:-1.97px">0.</span><span style="left:1.97px">95</span></div>
<div class="t" style="left:19px;top:122.15px;letter-spacing:0.272px;">Deprivation Decile</div>
<div class="n" style="left:251.20px;top:121.98px;font-size:14.2px;transform:scaleX(0.91);"><span style="right:-1.97px">1.</span><span style="left:1.97px">2</span></div>
<div class="n" style="left:326.00px;top:121.98px;font-size:14.2px;transform:scaleX(0.91);"><span style="right:-1.97px">1.</span><span style="left:1.97px">1</span></div>
<div class="n" style="left:404.00px;top:121.98px;font-size:14.2px;transform:scaleX(0.91);"><span style="right:-1.97px">1.</span><span style="left:1.97px">4</span></div>
<div class="n" style="left:476.00px;top:121.64px;font-size:14.6px;transform:scaleX(1.0);font-weight:bold;"><span style="right:-2.03px">0.</span><span style="left:2.03px">03</span></div>
<div class="t" style="left:19px;top:152.95px;letter-spacing:0px;transform:scaleX(0.945);transform-origin:0 0;">Age</div>
<div class="n" style="left:251.20px;top:152.78px;font-size:14.2px;transform:scaleX(0.91);"><span style="right:-1.97px">1.</span><span style="left:1.97px">0</span></div>
<div class="n" style="left:326.00px;top:152.78px;font-size:14.2px;transform:scaleX(0.91);"><span style="right:-1.97px">0.</span><span style="left:1.97px">9</span></div>
<div class="n" style="left:404.00px;top:152.78px;font-size:14.2px;transform:scaleX(0.91);"><span style="right:-1.97px">1.</span><span style="left:1.97px">1</span></div>
<div class="n" style="left:476.00px;top:152.78px;font-size:14.2px;transform:scaleX(0.91);"><span style="right:-1.97px">0.</span><span style="left:1.97px">43</span></div>
<div class="t" style="left:19px;top:182.95px;letter-spacing:0.375px;">Sibling Affected</div>
<div class="n" style="left:251.20px;top:182.78px;font-size:14.2px;transform:scaleX(0.91);"><span style="right:-1.97px">1.</span><span style="left:1.97px">1</span></div>
<div class="n" style="left:326.00px;top:182.78px;font-size:14.2px;transform:scaleX(0.91);"><span style="right:-1.97px">0.</span><span style="left:1.97px">4</span></div>
<div class="n" style="left:404.00px;top:182.78px;font-size:14.2px;transform:scaleX(0.91);"><span style="right:-1.97px">2.</span><span style="left:1.97px">8</span></div>
<div class="n" style="left:476.00px;top:182.78px;font-size:14.2px;transform:scaleX(0.91);"><span style="right:-1.97px">0.</span><span style="left:1.97px">84</span></div>
<div class="t" style="left:19px;top:214.15px;letter-spacing:0px;transform:scaleX(0.95);transform-origin:0 0;">Male Sex</div>
<div class="n" style="left:251.20px;top:213.98px;font-size:14.2px;transform:scaleX(0.91);"><span style="right:-1.97px">0.</span><span style="left:1.97px">7</span></div>
<div class="n" style="left:326.00px;top:213.98px;font-size:14.2px;transform:scaleX(0.91);"><span style="right:-1.97px">0.</span><span style="left:1.97px">3</span></div>
<div class="n" style="left:404.00px;top:213.98px;font-size:14.2px;transform:scaleX(0.91);"><span style="right:-1.97px">1.</span><span style="left:1.97px">7</span></div>
<div class="n" style="left:476.00px;top:213.98px;font-size:14.2px;transform:scaleX(0.91);"><span style="right:-1.97px">0.</span><span style="left:1.97px">44</span></div>
<div class="t" style="left:19px;top:244.85px;letter-spacing:0.513px;">Proband</div>
<div class="n" style="left:251.20px;top:244.68px;font-size:14.2px;transform:scaleX(0.91);"><span style="right:-1.97px">0.</span><span style="left:1.97px">4</span></div>
<div class="n" style="left:326.00px;top:244.68px;font-size:14.2px;transform:scaleX(0.91);"><span style="right:-1.97px">0.</span><span style="left:1.97px">0</span></div>
<div class="n" style="left:404.00px;top:244.68px;font-size:14.2px;transform:scaleX(0.91);"><span style="right:-1.97px">22.</span><span style="left:1.97px">8</span></div>
<div class="n" style="left:476.00px;top:244.68px;font-size:14.2px;transform:scaleX(0.91);"><span style="right:-1.97px">0.</span><span style="left:1.97px">68</span></div>
<div class="t" style="left:19px;top:275.85px;letter-spacing:0.440px;">Propranolol (ref)</div>


<div class="n" style="left:404.00px;top:275.68px;font-size:14.2px;transform:scaleX(0.91);"><span style="right:-1.97px">.</span><span style="left:1.97px"></span></div>
<div class="n" style="left:476.00px;top:275.68px;font-size:14.2px;transform:scaleX(0.91);"><span style="right:-1.97px">0.</span><span style="left:1.97px">23</span></div>
<div class="t" style="left:19px;top:305.95px;letter-spacing:0.597px;">Atenolol</div>
<div class="n" style="left:251.20px;top:305.78px;font-size:14.2px;transform:scaleX(0.91);"><span style="right:-1.97px">0.</span><span style="left:1.97px">2</span></div>
<div class="n" style="left:326.00px;top:305.78px;font-size:14.2px;transform:scaleX(0.91);"><span style="right:-1.97px">0.</span><span style="left:1.97px">1</span></div>
<div class="n" style="left:404.00px;top:305.78px;font-size:14.2px;transform:scaleX(0.91);"><span style="right:-1.97px">1.</span><span style="left:1.97px">9</span></div>
<div class="n" style="left:476.00px;top:305.78px;font-size:14.2px;transform:scaleX(0.91);"><span style="right:-1.97px">0.</span><span style="left:1.97px">14</span></div>
<div class="t" style="left:19px;top:336.95px;letter-spacing:0.602px;">Bisoprolol</div>
<div class="n" style="left:251.20px;top:336.78px;font-size:14.2px;transform:scaleX(0.91);"><span style="right:-1.97px">0.</span><span style="left:1.97px">3</span></div>
<div class="n" style="left:326.00px;top:336.78px;font-size:14.2px;transform:scaleX(0.91);"><span style="right:-1.97px">0.</span><span style="left:1.97px">1</span></div>
<div class="n" style="left:404.00px;top:336.78px;font-size:14.2px;transform:scaleX(0.91);"><span style="right:-1.97px">4.</span><span style="left:1.97px">1</span></div>
<div class="n" style="left:476.00px;top:336.78px;font-size:14.2px;transform:scaleX(0.91);"><span style="right:-1.97px">0.</span><span style="left:1.97px">35</span></div>
<div class="t" style="left:19px;top:366.15px;letter-spacing:0.391px;">Constant</div>
<div class="n" style="left:251.20px;top:365.98px;font-size:14.2px;transform:scaleX(0.91);"><span style="right:-1.97px">1.</span><span style="left:1.97px">72</span></div>


<div class="n" style="left:476.00px;top:365.98px;font-size:14.2px;transform:scaleX(0.91);"><span style="right:-1.97px">0.</span><span style="left:1.97px">67</span></div>
</body></html>
